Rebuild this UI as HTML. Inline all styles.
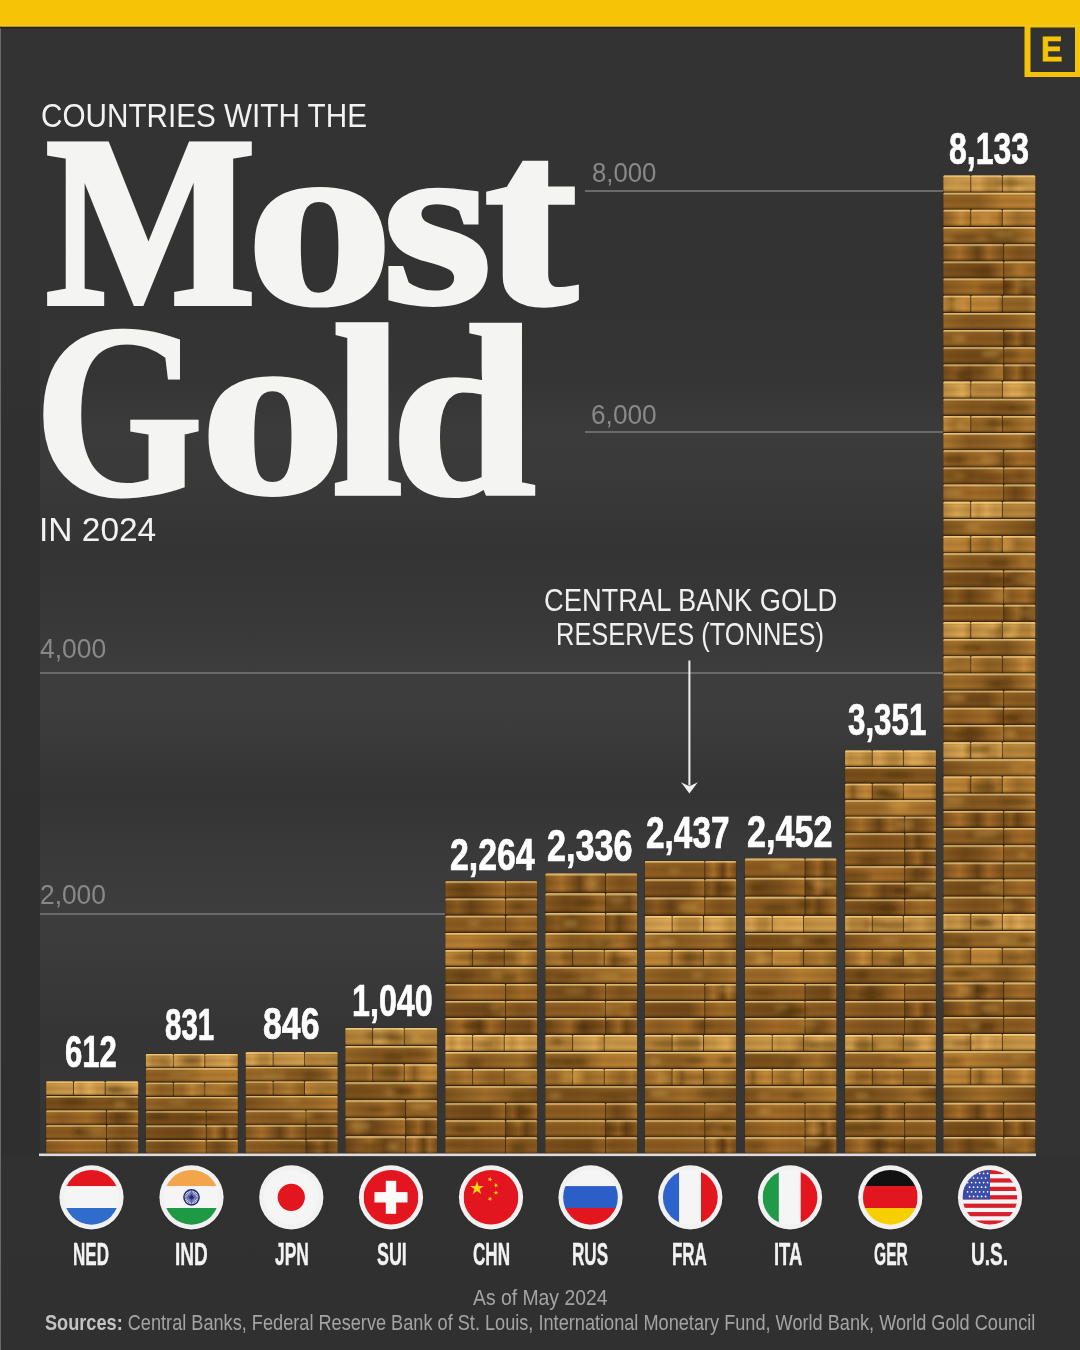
<!DOCTYPE html>
<html><head><meta charset="utf-8"><title>Countries with the Most Gold in 2024</title>
<style>
html,body{margin:0;padding:0;width:1080px;height:1350px;overflow:hidden;background:#323232;}
body{position:relative;font-family:"Liberation Sans",Arial,sans-serif;}
.t{position:absolute;white-space:nowrap;line-height:1;transform-origin:0 0;}
.sub{color:#f2f2f2;font-size:32px;letter-spacing:0px;}
.big{font-family:"Liberation Serif",serif;font-weight:bold;color:#f4f4f2;font-size:252px;-webkit-text-stroke:6px #f4f4f2;transform-origin:0 0;}
.ax{color:#888888;font-size:25px;}
.num{color:#fff;-webkit-text-stroke:0.7px #fff;}
.lab{color:#f2f2f2;-webkit-text-stroke:0.4px #f2f2f2;}
.ann{color:#f0f0f0;font-size:27px;text-align:center;}
.foot{color:#a4a4a4;font-size:20px;}
.logoE{color:#f5c406;-webkit-text-stroke:0.8px #f5c406;font-weight:bold;font-size:33px;}
</style></head><body>
<svg width="1080" height="1350" viewBox="0 0 1080 1350" style="position:absolute;left:0;top:0">
<defs>
<linearGradient id="h0_0" x1="0" y1="0" x2="1" y2="0"><stop offset="0.00" stop-color="#684316"/><stop offset="0.40" stop-color="#a06a27"/><stop offset="0.65" stop-color="#6c4517"/><stop offset="1.00" stop-color="#8f5e22"/></linearGradient>
<linearGradient id="h0_1" x1="0" y1="0" x2="1" y2="0"><stop offset="0.00" stop-color="#764d1a"/><stop offset="0.20" stop-color="#8d5d21"/><stop offset="0.43" stop-color="#694316"/><stop offset="0.74" stop-color="#8e5d21"/><stop offset="1.00" stop-color="#a9712a"/></linearGradient>
<linearGradient id="h0_2" x1="0" y1="0" x2="1" y2="0"><stop offset="0.00" stop-color="#82551e"/><stop offset="0.27" stop-color="#ab722b"/><stop offset="0.57" stop-color="#684316"/><stop offset="0.76" stop-color="#a36c28"/><stop offset="1.00" stop-color="#7a4f1b"/></linearGradient>
<linearGradient id="h0_3" x1="0" y1="0" x2="1" y2="0"><stop offset="0.00" stop-color="#8e5e22"/><stop offset="0.51" stop-color="#8d5d21"/><stop offset="1.00" stop-color="#966324"/></linearGradient>
<linearGradient id="h0_4" x1="0" y1="0" x2="1" y2="0"><stop offset="0.00" stop-color="#936123"/><stop offset="0.51" stop-color="#80531d"/><stop offset="1.00" stop-color="#8c5c21"/></linearGradient>
<linearGradient id="h0_5" x1="0" y1="0" x2="1" y2="0"><stop offset="0.00" stop-color="#926023"/><stop offset="0.51" stop-color="#895a20"/><stop offset="1.00" stop-color="#8b5c21"/></linearGradient>
<linearGradient id="h0_6" x1="0" y1="0" x2="1" y2="0"><stop offset="0.00" stop-color="#7f531d"/><stop offset="0.33" stop-color="#774d1a"/><stop offset="0.73" stop-color="#724a19"/><stop offset="1.00" stop-color="#9d6826"/></linearGradient>
<linearGradient id="h0_7" x1="0" y1="0" x2="1" y2="0"><stop offset="0.00" stop-color="#8b5b21"/><stop offset="0.51" stop-color="#a46d28"/><stop offset="1.00" stop-color="#9a6625"/></linearGradient>
<linearGradient id="h0_8" x1="0" y1="0" x2="1" y2="0"><stop offset="0.00" stop-color="#8a5b20"/><stop offset="0.35" stop-color="#714918"/><stop offset="0.60" stop-color="#7e521c"/><stop offset="1.00" stop-color="#a8702a"/></linearGradient>
<linearGradient id="h0_9" x1="0" y1="0" x2="1" y2="0"><stop offset="0.00" stop-color="#9c6826"/><stop offset="0.26" stop-color="#8e5e22"/><stop offset="0.69" stop-color="#a46d28"/><stop offset="1.00" stop-color="#7c501c"/></linearGradient>
<linearGradient id="h1_0" x1="0" y1="0" x2="1" y2="0"><stop offset="0.00" stop-color="#7a511b"/><stop offset="0.23" stop-color="#7c521c"/><stop offset="0.50" stop-color="#885b21"/><stop offset="0.80" stop-color="#a7732c"/><stop offset="1.00" stop-color="#7a501b"/></linearGradient>
<linearGradient id="h1_1" x1="0" y1="0" x2="1" y2="0"><stop offset="0.00" stop-color="#b07a30"/><stop offset="0.28" stop-color="#895c21"/><stop offset="0.52" stop-color="#916224"/><stop offset="0.83" stop-color="#a5712c"/><stop offset="1.00" stop-color="#774e1a"/></linearGradient>
<linearGradient id="h1_2" x1="0" y1="0" x2="1" y2="0"><stop offset="0.00" stop-color="#996827"/><stop offset="0.31" stop-color="#85591f"/><stop offset="0.68" stop-color="#8a5c21"/><stop offset="1.00" stop-color="#aa752d"/></linearGradient>
<linearGradient id="h1_3" x1="0" y1="0" x2="1" y2="0"><stop offset="0.00" stop-color="#7b511c"/><stop offset="0.32" stop-color="#956526"/><stop offset="0.73" stop-color="#9d6b28"/><stop offset="1.00" stop-color="#b57d31"/></linearGradient>
<linearGradient id="h1_4" x1="0" y1="0" x2="1" y2="0"><stop offset="0.00" stop-color="#936325"/><stop offset="0.39" stop-color="#8f6023"/><stop offset="0.63" stop-color="#b57d31"/><stop offset="1.00" stop-color="#ba8133"/></linearGradient>
<linearGradient id="h1_5" x1="0" y1="0" x2="1" y2="0"><stop offset="0.00" stop-color="#80551e"/><stop offset="0.43" stop-color="#a4712b"/><stop offset="1.00" stop-color="#764d1a"/></linearGradient>
<linearGradient id="h1_6" x1="0" y1="0" x2="1" y2="0"><stop offset="0.00" stop-color="#9b6a28"/><stop offset="0.20" stop-color="#a16e2a"/><stop offset="0.47" stop-color="#8c5e22"/><stop offset="0.69" stop-color="#7e541d"/><stop offset="1.00" stop-color="#b37c31"/></linearGradient>
<linearGradient id="h1_7" x1="0" y1="0" x2="1" y2="0"><stop offset="0.00" stop-color="#b47c31"/><stop offset="0.27" stop-color="#ba8133"/><stop offset="0.54" stop-color="#a6722c"/><stop offset="0.74" stop-color="#9d6b29"/><stop offset="1.00" stop-color="#926224"/></linearGradient>
<linearGradient id="h1_8" x1="0" y1="0" x2="1" y2="0"><stop offset="0.00" stop-color="#79501b"/><stop offset="0.27" stop-color="#7a501b"/><stop offset="0.69" stop-color="#84581f"/><stop offset="1.00" stop-color="#81561e"/></linearGradient>
<linearGradient id="h1_9" x1="0" y1="0" x2="1" y2="0"><stop offset="0.00" stop-color="#9e6c29"/><stop offset="0.35" stop-color="#9c6a28"/><stop offset="0.60" stop-color="#b98033"/><stop offset="1.00" stop-color="#a16e2a"/></linearGradient>
<linearGradient id="h2_0" x1="0" y1="0" x2="1" y2="0"><stop offset="0.00" stop-color="#b17b31"/><stop offset="0.56" stop-color="#916224"/><stop offset="1.00" stop-color="#986827"/></linearGradient>
<linearGradient id="h2_1" x1="0" y1="0" x2="1" y2="0"><stop offset="0.00" stop-color="#8f6123"/><stop offset="0.35" stop-color="#a8742e"/><stop offset="0.66" stop-color="#ca8e3c"/><stop offset="1.00" stop-color="#a8742d"/></linearGradient>
<linearGradient id="h2_2" x1="0" y1="0" x2="1" y2="0"><stop offset="0.00" stop-color="#9e6d29"/><stop offset="0.27" stop-color="#996927"/><stop offset="0.60" stop-color="#c08637"/><stop offset="1.00" stop-color="#926324"/></linearGradient>
<linearGradient id="h2_3" x1="0" y1="0" x2="1" y2="0"><stop offset="0.00" stop-color="#c88d3b"/><stop offset="0.45" stop-color="#9f6e2a"/><stop offset="1.00" stop-color="#b67f33"/></linearGradient>
<linearGradient id="h2_4" x1="0" y1="0" x2="1" y2="0"><stop offset="0.00" stop-color="#9b6a28"/><stop offset="0.54" stop-color="#b37d32"/><stop offset="1.00" stop-color="#8d5f22"/></linearGradient>
<linearGradient id="h2_5" x1="0" y1="0" x2="1" y2="0"><stop offset="0.00" stop-color="#9f6d2a"/><stop offset="0.34" stop-color="#966626"/><stop offset="0.73" stop-color="#ac772f"/><stop offset="1.00" stop-color="#a9752e"/></linearGradient>
<linearGradient id="h2_6" x1="0" y1="0" x2="1" y2="0"><stop offset="0.00" stop-color="#c18838"/><stop offset="0.21" stop-color="#be8537"/><stop offset="0.55" stop-color="#bf8637"/><stop offset="0.83" stop-color="#ba8235"/><stop offset="1.00" stop-color="#966726"/></linearGradient>
<linearGradient id="h2_7" x1="0" y1="0" x2="1" y2="0"><stop offset="0.00" stop-color="#bd8436"/><stop offset="0.25" stop-color="#a7742d"/><stop offset="0.54" stop-color="#946525"/><stop offset="0.83" stop-color="#b07b31"/><stop offset="1.00" stop-color="#9e6d2a"/></linearGradient>
<linearGradient id="h2_8" x1="0" y1="0" x2="1" y2="0"><stop offset="0.00" stop-color="#966626"/><stop offset="0.33" stop-color="#966726"/><stop offset="0.57" stop-color="#946525"/><stop offset="0.73" stop-color="#956525"/><stop offset="1.00" stop-color="#b27c32"/></linearGradient>
<linearGradient id="h2_9" x1="0" y1="0" x2="1" y2="0"><stop offset="0.00" stop-color="#be8537"/><stop offset="0.30" stop-color="#8c5f22"/><stop offset="0.50" stop-color="#b47d33"/><stop offset="0.77" stop-color="#c58b3a"/><stop offset="1.00" stop-color="#bc8436"/></linearGradient>
<linearGradient id="h3_0" x1="0" y1="0" x2="1" y2="0"><stop offset="0.00" stop-color="#ba893d"/><stop offset="0.50" stop-color="#daa652"/><stop offset="1.00" stop-color="#c29042"/></linearGradient>
<linearGradient id="h3_1" x1="0" y1="0" x2="1" y2="0"><stop offset="0.00" stop-color="#d7a350"/><stop offset="0.23" stop-color="#ba883c"/><stop offset="0.48" stop-color="#b7863b"/><stop offset="0.82" stop-color="#b9873c"/><stop offset="1.00" stop-color="#e0ab56"/></linearGradient>
<linearGradient id="h3_2" x1="0" y1="0" x2="1" y2="0"><stop offset="0.00" stop-color="#d3a04e"/><stop offset="0.19" stop-color="#c39143"/><stop offset="0.55" stop-color="#ce9a4a"/><stop offset="0.83" stop-color="#b8863b"/><stop offset="1.00" stop-color="#b18137"/></linearGradient>
<linearGradient id="h3_3" x1="0" y1="0" x2="1" y2="0"><stop offset="0.00" stop-color="#c89546"/><stop offset="0.27" stop-color="#dfaa55"/><stop offset="0.50" stop-color="#dca853"/><stop offset="0.82" stop-color="#bc8a3e"/><stop offset="1.00" stop-color="#be8c3f"/></linearGradient>
<linearGradient id="h3_4" x1="0" y1="0" x2="1" y2="0"><stop offset="0.00" stop-color="#c29042"/><stop offset="0.33" stop-color="#cd9a4a"/><stop offset="0.71" stop-color="#dda854"/><stop offset="1.00" stop-color="#b48339"/></linearGradient>
<linearGradient id="h3_5" x1="0" y1="0" x2="1" y2="0"><stop offset="0.00" stop-color="#e0ab56"/><stop offset="0.23" stop-color="#c79445"/><stop offset="0.49" stop-color="#e1ac57"/><stop offset="0.76" stop-color="#cb9848"/><stop offset="1.00" stop-color="#cd9a49"/></linearGradient>
<linearGradient id="h3_6" x1="0" y1="0" x2="1" y2="0"><stop offset="0.00" stop-color="#d19d4c"/><stop offset="0.25" stop-color="#daa552"/><stop offset="0.56" stop-color="#b9873c"/><stop offset="0.79" stop-color="#b8873b"/><stop offset="1.00" stop-color="#d19e4c"/></linearGradient>
<linearGradient id="h3_7" x1="0" y1="0" x2="1" y2="0"><stop offset="0.00" stop-color="#c29042"/><stop offset="0.51" stop-color="#cc9949"/><stop offset="1.00" stop-color="#ce9b4a"/></linearGradient>
<linearGradient id="h3_8" x1="0" y1="0" x2="1" y2="0"><stop offset="0.00" stop-color="#b48338"/><stop offset="0.56" stop-color="#bb893d"/><stop offset="1.00" stop-color="#b38238"/></linearGradient>
<linearGradient id="h3_9" x1="0" y1="0" x2="1" y2="0"><stop offset="0.00" stop-color="#ce9b4a"/><stop offset="0.50" stop-color="#d9a451"/><stop offset="1.00" stop-color="#e1ac57"/></linearGradient>
<linearGradient id="vsh" x1="0" y1="0" x2="0" y2="1"><stop offset="0" stop-color="#ffe4a0" stop-opacity="0.8"/><stop offset="0.1" stop-color="#ffd888" stop-opacity="0.45"/><stop offset="0.2" stop-color="#2a1400" stop-opacity="0.0"/><stop offset="0.5" stop-color="#2a1400" stop-opacity="0.12"/><stop offset="0.8" stop-color="#2a1400" stop-opacity="0.0"/><stop offset="0.93" stop-color="#2a1400" stop-opacity="0.18"/><stop offset="1" stop-color="#1a0a00" stop-opacity="0.5"/></linearGradient>
<linearGradient id="g0" x1="0" y1="0" x2="0" y2="1"><stop offset="0" stop-color="#c99a40"/><stop offset="0.5" stop-color="#a87a2c"/><stop offset="1" stop-color="#7a5418"/></linearGradient>
<linearGradient id="g1" x1="0" y1="0" x2="0" y2="1"><stop offset="0" stop-color="#d2a548"/><stop offset="0.5" stop-color="#b08232"/><stop offset="1" stop-color="#80581a"/></linearGradient>
<linearGradient id="g2" x1="0" y1="0" x2="0" y2="1"><stop offset="0" stop-color="#bf9038"/><stop offset="0.5" stop-color="#9e7228"/><stop offset="1" stop-color="#724e16"/></linearGradient>
<linearGradient id="g3" x1="0" y1="0" x2="1" y2="0"><stop offset="0" stop-color="#b88a36"/><stop offset="0.5" stop-color="#a27628"/><stop offset="1" stop-color="#c49640"/></linearGradient>
<filter id="blur3" x="-20%" y="-50%" width="140%" height="200%"><feGaussianBlur stdDeviation="2.5"/></filter>
<linearGradient id="chartbg" x1="0" y1="0" x2="0" y2="1"><stop offset="0.000" stop-color="#333333"/><stop offset="0.093" stop-color="#353535"/><stop offset="0.153" stop-color="#3b3b3b"/><stop offset="0.198" stop-color="#3a3a3a"/><stop offset="0.293" stop-color="#343434"/><stop offset="0.372" stop-color="#383838"/><stop offset="0.434" stop-color="#3d3d3d"/><stop offset="0.477" stop-color="#3d3d3d"/><stop offset="0.573" stop-color="#343434"/><stop offset="0.651" stop-color="#3a3a3a"/><stop offset="0.714" stop-color="#3d3d3d"/><stop offset="0.756" stop-color="#3b3b3b"/><stop offset="0.853" stop-color="#353535"/><stop offset="0.930" stop-color="#363636"/><stop offset="0.988" stop-color="#343434"/><stop offset="1.000" stop-color="#333333"/></linearGradient>
<linearGradient id="lstrip" x1="0" y1="0" x2="0" y2="1"><stop offset="0" stop-color="#333333"/><stop offset="0.15" stop-color="#303030"/><stop offset="1" stop-color="#2f2f2f"/></linearGradient>
<radialGradient id="spot" cx="0.3" cy="0.45" r="0.45"><stop offset="0" stop-color="#ffffff" stop-opacity="0.0"/><stop offset="1" stop-color="#ffffff" stop-opacity="0"/></radialGradient>
<linearGradient id="footbg" x1="0" y1="0" x2="0" y2="1"><stop offset="0" stop-color="#313131"/><stop offset="1" stop-color="#303030"/></linearGradient>
</defs>
<rect x="0" y="0" width="1080" height="1350" fill="#333333"/>
<rect x="0" y="300" width="40" height="860" fill="url(#lstrip)"/>
<rect x="40" y="300" width="998" height="860" fill="url(#chartbg)"/>

<rect x="0" y="1156" width="1080" height="194" fill="url(#footbg)"/>
<rect x="0" y="27" width="1" height="1323" fill="#6a6a6a"/>
<rect x="585" y="190.0" width="359" height="2" fill="#6a6a6a"/>
<rect x="585" y="431.0" width="359" height="2" fill="#6a6a6a"/>
<rect x="40" y="672.0" width="904" height="2" fill="#6a6a6a"/>
<rect x="40" y="913.0" width="405" height="2" fill="#6a6a6a"/>
<rect x="45.8" y="1081.0" width="92.8" height="74.0" fill="#3a2810"/>
<rect x="46.2" y="1081.5" width="27.0" height="13.6" rx="1.2" fill="url(#h3_7)"/><rect x="46.2" y="1081.5" width="27.0" height="13.6" rx="1.2" fill="url(#vsh)"/>
<rect x="74.0" y="1081.5" width="30.8" height="13.6" rx="1.2" fill="url(#h3_5)"/><rect x="74.0" y="1081.5" width="30.8" height="13.6" rx="1.2" fill="url(#vsh)"/>
<rect x="105.6" y="1081.5" width="32.6" height="13.6" rx="1.2" fill="url(#h3_9)"/><rect x="105.6" y="1081.5" width="32.6" height="13.6" rx="1.2" fill="url(#vsh)"/>
<rect x="46.2" y="1096.1" width="92.0" height="13.6" rx="1.2" fill="url(#h1_8)"/><rect x="46.2" y="1096.1" width="92.0" height="13.6" rx="1.2" fill="url(#vsh)"/>
<rect x="46.2" y="1110.6" width="60.0" height="13.6" rx="1.2" fill="url(#h0_9)"/><rect x="46.2" y="1110.6" width="60.0" height="13.6" rx="1.2" fill="url(#vsh)"/>
<rect x="107.0" y="1110.6" width="31.2" height="13.6" rx="1.2" fill="url(#h0_8)"/><rect x="107.0" y="1110.6" width="31.2" height="13.6" rx="1.2" fill="url(#vsh)"/>
<rect x="46.2" y="1125.2" width="60.0" height="13.6" rx="1.2" fill="url(#h0_3)"/><rect x="46.2" y="1125.2" width="60.0" height="13.6" rx="1.2" fill="url(#vsh)"/>
<rect x="107.0" y="1125.2" width="31.2" height="13.6" rx="1.2" fill="url(#h0_4)"/><rect x="107.0" y="1125.2" width="31.2" height="13.6" rx="1.2" fill="url(#vsh)"/>
<rect x="46.2" y="1139.7" width="60.0" height="13.6" rx="1.2" fill="url(#h0_7)"/><rect x="46.2" y="1139.7" width="60.0" height="13.6" rx="1.2" fill="url(#vsh)"/>
<rect x="107.0" y="1139.7" width="31.2" height="13.6" rx="1.2" fill="url(#h0_8)"/><rect x="107.0" y="1139.7" width="31.2" height="13.6" rx="1.2" fill="url(#vsh)"/>
<clipPath id="cc0"><rect x="45.8" y="1081.0" width="92.8" height="74.0"/></clipPath>
<g clip-path="url(#cc0)"><g filter="url(#blur3)">
<ellipse cx="115.0" cy="1089.0" rx="8.5" ry="3.2" fill="#3a2306" opacity="0.35"/>
<ellipse cx="120.1" cy="1090.9" rx="15.2" ry="3.2" fill="#3a2306" opacity="0.43"/>
<ellipse cx="88.3" cy="1087.6" rx="7.7" ry="2.9" fill="#f0c060" opacity="0.25"/>
<ellipse cx="72.9" cy="1101.7" rx="12.7" ry="3.2" fill="#3a2306" opacity="0.41"/>
<ellipse cx="121.7" cy="1102.1" rx="13.2" ry="3.2" fill="#3a2306" opacity="0.38"/>
<ellipse cx="120.6" cy="1104.2" rx="6.5" ry="2.9" fill="#f0c060" opacity="0.34"/>
<ellipse cx="120.8" cy="1116.7" rx="12.7" ry="3.2" fill="#3a2306" opacity="0.29"/>
<ellipse cx="85.1" cy="1132.3" rx="9.6" ry="3.2" fill="#3a2306" opacity="0.27"/>
<ellipse cx="82.2" cy="1132.0" rx="10.6" ry="3.2" fill="#3a2306" opacity="0.39"/>
<ellipse cx="93.5" cy="1130.9" rx="11.7" ry="2.9" fill="#f0c060" opacity="0.22"/>
</g></g>
<rect x="145.5" y="1053.5" width="92.7" height="101.5" fill="#3a2810"/>
<rect x="145.9" y="1054.0" width="27.0" height="13.3" rx="1.2" fill="url(#h3_1)"/><rect x="145.9" y="1054.0" width="27.0" height="13.3" rx="1.2" fill="url(#vsh)"/>
<rect x="173.7" y="1054.0" width="30.7" height="13.3" rx="1.2" fill="url(#h3_1)"/><rect x="173.7" y="1054.0" width="30.7" height="13.3" rx="1.2" fill="url(#vsh)"/>
<rect x="205.2" y="1054.0" width="32.6" height="13.3" rx="1.2" fill="url(#h3_4)"/><rect x="205.2" y="1054.0" width="32.6" height="13.3" rx="1.2" fill="url(#vsh)"/>
<rect x="145.9" y="1068.3" width="91.9" height="13.3" rx="1.2" fill="url(#h1_4)"/><rect x="145.9" y="1068.3" width="91.9" height="13.3" rx="1.2" fill="url(#vsh)"/>
<rect x="145.9" y="1082.7" width="27.0" height="13.3" rx="1.2" fill="url(#h2_0)"/><rect x="145.9" y="1082.7" width="27.0" height="13.3" rx="1.2" fill="url(#vsh)"/>
<rect x="173.7" y="1082.7" width="30.7" height="13.3" rx="1.2" fill="url(#h2_2)"/><rect x="173.7" y="1082.7" width="30.7" height="13.3" rx="1.2" fill="url(#vsh)"/>
<rect x="205.2" y="1082.7" width="32.6" height="13.3" rx="1.2" fill="url(#h2_4)"/><rect x="205.2" y="1082.7" width="32.6" height="13.3" rx="1.2" fill="url(#vsh)"/>
<rect x="145.9" y="1097.0" width="91.9" height="13.3" rx="1.2" fill="url(#h1_2)"/><rect x="145.9" y="1097.0" width="91.9" height="13.3" rx="1.2" fill="url(#vsh)"/>
<rect x="145.9" y="1111.3" width="59.9" height="13.3" rx="1.2" fill="url(#h0_6)"/><rect x="145.9" y="1111.3" width="59.9" height="13.3" rx="1.2" fill="url(#vsh)"/>
<rect x="206.6" y="1111.3" width="31.2" height="13.3" rx="1.2" fill="url(#h0_4)"/><rect x="206.6" y="1111.3" width="31.2" height="13.3" rx="1.2" fill="url(#vsh)"/>
<rect x="145.9" y="1125.6" width="59.9" height="13.3" rx="1.2" fill="url(#h0_6)"/><rect x="145.9" y="1125.6" width="59.9" height="13.3" rx="1.2" fill="url(#vsh)"/>
<rect x="206.6" y="1125.6" width="31.2" height="13.3" rx="1.2" fill="url(#h0_2)"/><rect x="206.6" y="1125.6" width="31.2" height="13.3" rx="1.2" fill="url(#vsh)"/>
<rect x="145.9" y="1140.0" width="59.9" height="13.3" rx="1.2" fill="url(#h0_8)"/><rect x="145.9" y="1140.0" width="59.9" height="13.3" rx="1.2" fill="url(#vsh)"/>
<rect x="206.6" y="1140.0" width="31.2" height="13.3" rx="1.2" fill="url(#h0_8)"/><rect x="206.6" y="1140.0" width="31.2" height="13.3" rx="1.2" fill="url(#vsh)"/>
<clipPath id="cc1"><rect x="145.5" y="1053.5" width="92.7" height="101.5"/></clipPath>
<g clip-path="url(#cc1)"><g filter="url(#blur3)">
<ellipse cx="191.5" cy="1060.6" rx="8.8" ry="3.2" fill="#3a2306" opacity="0.41"/>
<ellipse cx="168.4" cy="1063.1" rx="8.7" ry="3.2" fill="#3a2306" opacity="0.25"/>
<ellipse cx="174.1" cy="1060.7" rx="6.6" ry="2.9" fill="#f0c060" opacity="0.24"/>
<ellipse cx="179.9" cy="1074.8" rx="11.5" ry="2.9" fill="#f0c060" opacity="0.24"/>
<ellipse cx="207.4" cy="1090.5" rx="11.8" ry="2.9" fill="#f0c060" opacity="0.24"/>
<ellipse cx="177.9" cy="1102.6" rx="10.3" ry="2.9" fill="#f0c060" opacity="0.24"/>
<ellipse cx="204.6" cy="1117.7" rx="14.0" ry="3.2" fill="#3a2306" opacity="0.45"/>
<ellipse cx="157.5" cy="1116.6" rx="11.1" ry="3.2" fill="#3a2306" opacity="0.45"/>
</g></g>
<rect x="245.3" y="1051.8" width="92.7" height="103.2" fill="#3a2810"/>
<rect x="245.7" y="1052.3" width="27.0" height="13.6" rx="1.2" fill="url(#h3_6)"/><rect x="245.7" y="1052.3" width="27.0" height="13.6" rx="1.2" fill="url(#vsh)"/>
<rect x="273.5" y="1052.3" width="30.7" height="13.6" rx="1.2" fill="url(#h3_7)"/><rect x="273.5" y="1052.3" width="30.7" height="13.6" rx="1.2" fill="url(#vsh)"/>
<rect x="305.0" y="1052.3" width="32.6" height="13.6" rx="1.2" fill="url(#h3_8)"/><rect x="305.0" y="1052.3" width="32.6" height="13.6" rx="1.2" fill="url(#vsh)"/>
<rect x="245.7" y="1066.9" width="91.9" height="13.6" rx="1.2" fill="url(#h1_6)"/><rect x="245.7" y="1066.9" width="91.9" height="13.6" rx="1.2" fill="url(#vsh)"/>
<rect x="245.7" y="1081.4" width="27.0" height="13.6" rx="1.2" fill="url(#h2_8)"/><rect x="245.7" y="1081.4" width="27.0" height="13.6" rx="1.2" fill="url(#vsh)"/>
<rect x="273.5" y="1081.4" width="30.7" height="13.6" rx="1.2" fill="url(#h2_4)"/><rect x="273.5" y="1081.4" width="30.7" height="13.6" rx="1.2" fill="url(#vsh)"/>
<rect x="305.0" y="1081.4" width="32.6" height="13.6" rx="1.2" fill="url(#h2_3)"/><rect x="305.0" y="1081.4" width="32.6" height="13.6" rx="1.2" fill="url(#vsh)"/>
<rect x="245.7" y="1096.0" width="91.9" height="13.6" rx="1.2" fill="url(#h1_3)"/><rect x="245.7" y="1096.0" width="91.9" height="13.6" rx="1.2" fill="url(#vsh)"/>
<rect x="245.7" y="1110.6" width="59.9" height="13.6" rx="1.2" fill="url(#h0_5)"/><rect x="245.7" y="1110.6" width="59.9" height="13.6" rx="1.2" fill="url(#vsh)"/>
<rect x="306.4" y="1110.6" width="31.2" height="13.6" rx="1.2" fill="url(#h0_3)"/><rect x="306.4" y="1110.6" width="31.2" height="13.6" rx="1.2" fill="url(#vsh)"/>
<rect x="245.7" y="1125.2" width="59.9" height="13.6" rx="1.2" fill="url(#h0_2)"/><rect x="245.7" y="1125.2" width="59.9" height="13.6" rx="1.2" fill="url(#vsh)"/>
<rect x="306.4" y="1125.2" width="31.2" height="13.6" rx="1.2" fill="url(#h0_6)"/><rect x="306.4" y="1125.2" width="31.2" height="13.6" rx="1.2" fill="url(#vsh)"/>
<rect x="245.7" y="1139.7" width="59.9" height="13.6" rx="1.2" fill="url(#h0_5)"/><rect x="245.7" y="1139.7" width="59.9" height="13.6" rx="1.2" fill="url(#vsh)"/>
<rect x="306.4" y="1139.7" width="31.2" height="13.6" rx="1.2" fill="url(#h0_0)"/><rect x="306.4" y="1139.7" width="31.2" height="13.6" rx="1.2" fill="url(#vsh)"/>
<clipPath id="cc2"><rect x="245.3" y="1051.8" width="92.7" height="103.2"/></clipPath>
<g clip-path="url(#cc2)"><g filter="url(#blur3)">
<ellipse cx="301.0" cy="1060.1" rx="8.0" ry="2.9" fill="#f0c060" opacity="0.21"/>
<ellipse cx="317.0" cy="1076.0" rx="12.7" ry="3.2" fill="#3a2306" opacity="0.31"/>
<ellipse cx="272.5" cy="1073.5" rx="10.6" ry="3.2" fill="#3a2306" opacity="0.28"/>
<ellipse cx="274.1" cy="1075.0" rx="11.8" ry="2.9" fill="#f0c060" opacity="0.28"/>
<ellipse cx="320.0" cy="1086.8" rx="6.3" ry="2.9" fill="#f0c060" opacity="0.25"/>
<ellipse cx="291.9" cy="1101.3" rx="8.5" ry="2.9" fill="#f0c060" opacity="0.20"/>
<ellipse cx="315.2" cy="1116.5" rx="11.9" ry="3.2" fill="#3a2306" opacity="0.33"/>
<ellipse cx="301.3" cy="1115.5" rx="11.7" ry="2.9" fill="#f0c060" opacity="0.33"/>
<ellipse cx="312.7" cy="1147.7" rx="13.6" ry="3.2" fill="#3a2306" opacity="0.39"/>
<ellipse cx="291.2" cy="1146.3" rx="12.2" ry="3.2" fill="#3a2306" opacity="0.28"/>
</g></g>
<rect x="345" y="1027.6" width="92.5" height="127.4" fill="#3a2810"/>
<rect x="345.4" y="1028.1" width="26.9" height="17.0" rx="1.2" fill="url(#h3_8)"/><rect x="345.4" y="1028.1" width="26.9" height="17.0" rx="1.2" fill="url(#vsh)"/>
<rect x="373.1" y="1028.1" width="30.7" height="17.0" rx="1.2" fill="url(#h3_6)"/><rect x="373.1" y="1028.1" width="30.7" height="17.0" rx="1.2" fill="url(#vsh)"/>
<rect x="404.6" y="1028.1" width="32.5" height="17.0" rx="1.2" fill="url(#h3_8)"/><rect x="404.6" y="1028.1" width="32.5" height="17.0" rx="1.2" fill="url(#vsh)"/>
<rect x="345.4" y="1046.1" width="91.7" height="17.0" rx="1.2" fill="url(#h1_2)"/><rect x="345.4" y="1046.1" width="91.7" height="17.0" rx="1.2" fill="url(#vsh)"/>
<rect x="345.4" y="1064.2" width="26.9" height="17.0" rx="1.2" fill="url(#h2_8)"/><rect x="345.4" y="1064.2" width="26.9" height="17.0" rx="1.2" fill="url(#vsh)"/>
<rect x="373.1" y="1064.2" width="30.7" height="17.0" rx="1.2" fill="url(#h2_8)"/><rect x="373.1" y="1064.2" width="30.7" height="17.0" rx="1.2" fill="url(#vsh)"/>
<rect x="404.6" y="1064.2" width="32.5" height="17.0" rx="1.2" fill="url(#h2_9)"/><rect x="404.6" y="1064.2" width="32.5" height="17.0" rx="1.2" fill="url(#vsh)"/>
<rect x="345.4" y="1082.2" width="91.7" height="17.0" rx="1.2" fill="url(#h1_0)"/><rect x="345.4" y="1082.2" width="91.7" height="17.0" rx="1.2" fill="url(#vsh)"/>
<rect x="345.4" y="1100.2" width="59.8" height="17.0" rx="1.2" fill="url(#h0_9)"/><rect x="345.4" y="1100.2" width="59.8" height="17.0" rx="1.2" fill="url(#vsh)"/>
<rect x="406.0" y="1100.2" width="31.1" height="17.0" rx="1.2" fill="url(#h0_3)"/><rect x="406.0" y="1100.2" width="31.1" height="17.0" rx="1.2" fill="url(#vsh)"/>
<rect x="345.4" y="1118.2" width="59.8" height="17.0" rx="1.2" fill="url(#h0_1)"/><rect x="345.4" y="1118.2" width="59.8" height="17.0" rx="1.2" fill="url(#vsh)"/>
<rect x="406.0" y="1118.2" width="31.1" height="17.0" rx="1.2" fill="url(#h0_0)"/><rect x="406.0" y="1118.2" width="31.1" height="17.0" rx="1.2" fill="url(#vsh)"/>
<rect x="345.4" y="1136.3" width="59.8" height="17.0" rx="1.2" fill="url(#h0_0)"/><rect x="345.4" y="1136.3" width="59.8" height="17.0" rx="1.2" fill="url(#vsh)"/>
<rect x="406.0" y="1136.3" width="31.1" height="17.0" rx="1.2" fill="url(#h0_2)"/><rect x="406.0" y="1136.3" width="31.1" height="17.0" rx="1.2" fill="url(#vsh)"/>
<clipPath id="cc3"><rect x="345" y="1027.6" width="92.5" height="127.4"/></clipPath>
<g clip-path="url(#cc3)"><g filter="url(#blur3)">
<ellipse cx="380.9" cy="1035.4" rx="14.4" ry="4.0" fill="#3a2306" opacity="0.36"/>
<ellipse cx="400.7" cy="1038.2" rx="12.8" ry="4.0" fill="#3a2306" opacity="0.35"/>
<ellipse cx="413.3" cy="1037.3" rx="8.5" ry="3.6" fill="#f0c060" opacity="0.28"/>
<ellipse cx="393.2" cy="1056.9" rx="10.7" ry="4.0" fill="#3a2306" opacity="0.41"/>
<ellipse cx="416.9" cy="1054.1" rx="13.6" ry="4.0" fill="#3a2306" opacity="0.30"/>
<ellipse cx="390.8" cy="1072.9" rx="10.8" ry="4.0" fill="#3a2306" opacity="0.39"/>
<ellipse cx="401.1" cy="1090.0" rx="12.0" ry="4.0" fill="#3a2306" opacity="0.32"/>
<ellipse cx="402.5" cy="1092.6" rx="12.2" ry="4.0" fill="#3a2306" opacity="0.28"/>
<ellipse cx="390.2" cy="1092.4" rx="5.7" ry="3.6" fill="#f0c060" opacity="0.23"/>
<ellipse cx="375.8" cy="1109.7" rx="10.6" ry="4.0" fill="#3a2306" opacity="0.34"/>
<ellipse cx="420.4" cy="1106.9" rx="11.8" ry="3.6" fill="#f0c060" opacity="0.34"/>
<ellipse cx="359.9" cy="1126.3" rx="12.0" ry="3.6" fill="#f0c060" opacity="0.35"/>
<ellipse cx="369.8" cy="1148.1" rx="8.1" ry="4.0" fill="#3a2306" opacity="0.37"/>
<ellipse cx="393.0" cy="1146.4" rx="5.9" ry="3.6" fill="#f0c060" opacity="0.32"/>
</g></g>
<rect x="445" y="880.7" width="92.5" height="274.3" fill="#3a2810"/>
<rect x="445.4" y="881.2" width="59.8" height="16.2" rx="1.2" fill="url(#h0_8)"/><rect x="445.4" y="881.2" width="59.8" height="16.2" rx="1.2" fill="url(#vsh)"/>
<rect x="506.0" y="881.2" width="31.1" height="16.2" rx="1.2" fill="url(#h0_4)"/><rect x="506.0" y="881.2" width="31.1" height="16.2" rx="1.2" fill="url(#vsh)"/>
<rect x="445.4" y="898.4" width="59.8" height="16.2" rx="1.2" fill="url(#h0_1)"/><rect x="445.4" y="898.4" width="59.8" height="16.2" rx="1.2" fill="url(#vsh)"/>
<rect x="506.0" y="898.4" width="31.1" height="16.2" rx="1.2" fill="url(#h0_5)"/><rect x="506.0" y="898.4" width="31.1" height="16.2" rx="1.2" fill="url(#vsh)"/>
<rect x="445.4" y="915.7" width="59.8" height="16.2" rx="1.2" fill="url(#h0_3)"/><rect x="445.4" y="915.7" width="59.8" height="16.2" rx="1.2" fill="url(#vsh)"/>
<rect x="506.0" y="915.7" width="31.1" height="16.2" rx="1.2" fill="url(#h0_7)"/><rect x="506.0" y="915.7" width="31.1" height="16.2" rx="1.2" fill="url(#vsh)"/>
<rect x="445.4" y="932.9" width="91.7" height="16.0" rx="1.2" fill="url(#h1_7)"/><rect x="445.4" y="932.9" width="91.7" height="16.0" rx="1.2" fill="url(#vsh)"/>
<rect x="445.4" y="949.9" width="26.9" height="16.0" rx="1.2" fill="url(#h2_6)"/><rect x="445.4" y="949.9" width="26.9" height="16.0" rx="1.2" fill="url(#vsh)"/>
<rect x="473.1" y="949.9" width="30.7" height="16.0" rx="1.2" fill="url(#h2_0)"/><rect x="473.1" y="949.9" width="30.7" height="16.0" rx="1.2" fill="url(#vsh)"/>
<rect x="504.6" y="949.9" width="32.5" height="16.0" rx="1.2" fill="url(#h2_2)"/><rect x="504.6" y="949.9" width="32.5" height="16.0" rx="1.2" fill="url(#vsh)"/>
<rect x="445.4" y="967.0" width="91.7" height="16.0" rx="1.2" fill="url(#h1_0)"/><rect x="445.4" y="967.0" width="91.7" height="16.0" rx="1.2" fill="url(#vsh)"/>
<rect x="445.4" y="984.0" width="59.8" height="16.0" rx="1.2" fill="url(#h0_7)"/><rect x="445.4" y="984.0" width="59.8" height="16.0" rx="1.2" fill="url(#vsh)"/>
<rect x="506.0" y="984.0" width="31.1" height="16.0" rx="1.2" fill="url(#h0_7)"/><rect x="506.0" y="984.0" width="31.1" height="16.0" rx="1.2" fill="url(#vsh)"/>
<rect x="445.4" y="1001.0" width="59.8" height="16.0" rx="1.2" fill="url(#h0_6)"/><rect x="445.4" y="1001.0" width="59.8" height="16.0" rx="1.2" fill="url(#vsh)"/>
<rect x="506.0" y="1001.0" width="31.1" height="16.0" rx="1.2" fill="url(#h0_4)"/><rect x="506.0" y="1001.0" width="31.1" height="16.0" rx="1.2" fill="url(#vsh)"/>
<rect x="445.4" y="1018.1" width="59.8" height="16.0" rx="1.2" fill="url(#h0_2)"/><rect x="445.4" y="1018.1" width="59.8" height="16.0" rx="1.2" fill="url(#vsh)"/>
<rect x="506.0" y="1018.1" width="31.1" height="16.0" rx="1.2" fill="url(#h0_6)"/><rect x="506.0" y="1018.1" width="31.1" height="16.0" rx="1.2" fill="url(#vsh)"/>
<rect x="445.4" y="1035.1" width="26.9" height="16.0" rx="1.2" fill="url(#h3_5)"/><rect x="445.4" y="1035.1" width="26.9" height="16.0" rx="1.2" fill="url(#vsh)"/>
<rect x="473.1" y="1035.1" width="30.7" height="16.0" rx="1.2" fill="url(#h3_6)"/><rect x="473.1" y="1035.1" width="30.7" height="16.0" rx="1.2" fill="url(#vsh)"/>
<rect x="504.6" y="1035.1" width="32.5" height="16.0" rx="1.2" fill="url(#h3_5)"/><rect x="504.6" y="1035.1" width="32.5" height="16.0" rx="1.2" fill="url(#vsh)"/>
<rect x="445.4" y="1052.1" width="91.7" height="16.0" rx="1.2" fill="url(#h1_1)"/><rect x="445.4" y="1052.1" width="91.7" height="16.0" rx="1.2" fill="url(#vsh)"/>
<rect x="445.4" y="1069.1" width="26.9" height="16.0" rx="1.2" fill="url(#h2_5)"/><rect x="445.4" y="1069.1" width="26.9" height="16.0" rx="1.2" fill="url(#vsh)"/>
<rect x="473.1" y="1069.1" width="30.7" height="16.0" rx="1.2" fill="url(#h2_0)"/><rect x="473.1" y="1069.1" width="30.7" height="16.0" rx="1.2" fill="url(#vsh)"/>
<rect x="504.6" y="1069.1" width="32.5" height="16.0" rx="1.2" fill="url(#h2_5)"/><rect x="504.6" y="1069.1" width="32.5" height="16.0" rx="1.2" fill="url(#vsh)"/>
<rect x="445.4" y="1086.2" width="91.7" height="16.0" rx="1.2" fill="url(#h1_5)"/><rect x="445.4" y="1086.2" width="91.7" height="16.0" rx="1.2" fill="url(#vsh)"/>
<rect x="445.4" y="1103.2" width="59.8" height="16.0" rx="1.2" fill="url(#h0_6)"/><rect x="445.4" y="1103.2" width="59.8" height="16.0" rx="1.2" fill="url(#vsh)"/>
<rect x="506.0" y="1103.2" width="31.1" height="16.0" rx="1.2" fill="url(#h0_1)"/><rect x="506.0" y="1103.2" width="31.1" height="16.0" rx="1.2" fill="url(#vsh)"/>
<rect x="445.4" y="1120.2" width="59.8" height="16.0" rx="1.2" fill="url(#h0_3)"/><rect x="445.4" y="1120.2" width="59.8" height="16.0" rx="1.2" fill="url(#vsh)"/>
<rect x="506.0" y="1120.2" width="31.1" height="16.0" rx="1.2" fill="url(#h0_0)"/><rect x="506.0" y="1120.2" width="31.1" height="16.0" rx="1.2" fill="url(#vsh)"/>
<rect x="445.4" y="1137.3" width="59.8" height="16.0" rx="1.2" fill="url(#h0_4)"/><rect x="445.4" y="1137.3" width="59.8" height="16.0" rx="1.2" fill="url(#vsh)"/>
<rect x="506.0" y="1137.3" width="31.1" height="16.0" rx="1.2" fill="url(#h0_4)"/><rect x="506.0" y="1137.3" width="31.1" height="16.0" rx="1.2" fill="url(#vsh)"/>
<clipPath id="cc4"><rect x="445" y="880.7" width="92.5" height="274.3"/></clipPath>
<g clip-path="url(#cc4)"><g filter="url(#blur3)">
<ellipse cx="459.1" cy="889.6" rx="14.7" ry="3.8" fill="#3a2306" opacity="0.27"/>
<ellipse cx="517.5" cy="906.3" rx="6.5" ry="3.8" fill="#3a2306" opacity="0.38"/>
<ellipse cx="473.9" cy="923.4" rx="6.3" ry="3.4" fill="#f0c060" opacity="0.26"/>
<ellipse cx="519.7" cy="943.4" rx="12.3" ry="3.7" fill="#3a2306" opacity="0.43"/>
<ellipse cx="469.3" cy="956.7" rx="15.3" ry="3.7" fill="#3a2306" opacity="0.33"/>
<ellipse cx="499.8" cy="957.0" rx="14.7" ry="3.7" fill="#3a2306" opacity="0.35"/>
<ellipse cx="463.7" cy="975.7" rx="9.4" ry="3.7" fill="#3a2306" opacity="0.31"/>
<ellipse cx="508.9" cy="978.3" rx="8.6" ry="3.7" fill="#3a2306" opacity="0.38"/>
<ellipse cx="495.5" cy="974.1" rx="6.2" ry="3.4" fill="#f0c060" opacity="0.22"/>
<ellipse cx="495.0" cy="1009.7" rx="9.3" ry="3.7" fill="#3a2306" opacity="0.40"/>
<ellipse cx="494.8" cy="1007.5" rx="6.2" ry="3.4" fill="#f0c060" opacity="0.28"/>
<ellipse cx="471.9" cy="1025.7" rx="11.7" ry="3.7" fill="#3a2306" opacity="0.43"/>
<ellipse cx="482.6" cy="1045.2" rx="8.1" ry="3.7" fill="#3a2306" opacity="0.30"/>
<ellipse cx="474.8" cy="1063.4" rx="7.3" ry="3.7" fill="#3a2306" opacity="0.35"/>
<ellipse cx="520.6" cy="1076.2" rx="9.5" ry="3.4" fill="#f0c060" opacity="0.26"/>
<ellipse cx="517.1" cy="1097.0" rx="6.2" ry="3.7" fill="#3a2306" opacity="0.26"/>
<ellipse cx="525.9" cy="1112.0" rx="6.7" ry="3.7" fill="#3a2306" opacity="0.44"/>
<ellipse cx="517.6" cy="1131.5" rx="8.5" ry="3.7" fill="#3a2306" opacity="0.27"/>
<ellipse cx="465.7" cy="1129.2" rx="12.8" ry="3.7" fill="#3a2306" opacity="0.44"/>
<ellipse cx="516.9" cy="1148.2" rx="6.9" ry="3.7" fill="#3a2306" opacity="0.41"/>
<ellipse cx="454.4" cy="1144.2" rx="11.7" ry="3.7" fill="#3a2306" opacity="0.26"/>
</g></g>
<rect x="545" y="873.0" width="92.5" height="282.0" fill="#3a2810"/>
<rect x="545.4" y="873.5" width="59.8" height="18.8" rx="1.2" fill="url(#h0_2)"/><rect x="545.4" y="873.5" width="59.8" height="18.8" rx="1.2" fill="url(#vsh)"/>
<rect x="606.0" y="873.5" width="31.1" height="18.8" rx="1.2" fill="url(#h0_4)"/><rect x="606.0" y="873.5" width="31.1" height="18.8" rx="1.2" fill="url(#vsh)"/>
<rect x="545.4" y="893.3" width="59.8" height="18.8" rx="1.2" fill="url(#h0_8)"/><rect x="545.4" y="893.3" width="59.8" height="18.8" rx="1.2" fill="url(#vsh)"/>
<rect x="606.0" y="893.3" width="31.1" height="18.8" rx="1.2" fill="url(#h0_6)"/><rect x="606.0" y="893.3" width="31.1" height="18.8" rx="1.2" fill="url(#vsh)"/>
<rect x="545.4" y="913.1" width="59.8" height="18.8" rx="1.2" fill="url(#h0_1)"/><rect x="545.4" y="913.1" width="59.8" height="18.8" rx="1.2" fill="url(#vsh)"/>
<rect x="606.0" y="913.1" width="31.1" height="18.8" rx="1.2" fill="url(#h0_1)"/><rect x="606.0" y="913.1" width="31.1" height="18.8" rx="1.2" fill="url(#vsh)"/>
<rect x="545.4" y="932.9" width="91.7" height="16.0" rx="1.2" fill="url(#h1_1)"/><rect x="545.4" y="932.9" width="91.7" height="16.0" rx="1.2" fill="url(#vsh)"/>
<rect x="545.4" y="949.9" width="26.9" height="16.0" rx="1.2" fill="url(#h2_4)"/><rect x="545.4" y="949.9" width="26.9" height="16.0" rx="1.2" fill="url(#vsh)"/>
<rect x="573.1" y="949.9" width="30.7" height="16.0" rx="1.2" fill="url(#h2_8)"/><rect x="573.1" y="949.9" width="30.7" height="16.0" rx="1.2" fill="url(#vsh)"/>
<rect x="604.6" y="949.9" width="32.5" height="16.0" rx="1.2" fill="url(#h2_9)"/><rect x="604.6" y="949.9" width="32.5" height="16.0" rx="1.2" fill="url(#vsh)"/>
<rect x="545.4" y="967.0" width="91.7" height="16.0" rx="1.2" fill="url(#h1_3)"/><rect x="545.4" y="967.0" width="91.7" height="16.0" rx="1.2" fill="url(#vsh)"/>
<rect x="545.4" y="984.0" width="59.8" height="16.0" rx="1.2" fill="url(#h0_6)"/><rect x="545.4" y="984.0" width="59.8" height="16.0" rx="1.2" fill="url(#vsh)"/>
<rect x="606.0" y="984.0" width="31.1" height="16.0" rx="1.2" fill="url(#h0_4)"/><rect x="606.0" y="984.0" width="31.1" height="16.0" rx="1.2" fill="url(#vsh)"/>
<rect x="545.4" y="1001.0" width="59.8" height="16.0" rx="1.2" fill="url(#h0_3)"/><rect x="545.4" y="1001.0" width="59.8" height="16.0" rx="1.2" fill="url(#vsh)"/>
<rect x="606.0" y="1001.0" width="31.1" height="16.0" rx="1.2" fill="url(#h0_9)"/><rect x="606.0" y="1001.0" width="31.1" height="16.0" rx="1.2" fill="url(#vsh)"/>
<rect x="545.4" y="1018.1" width="59.8" height="16.0" rx="1.2" fill="url(#h0_0)"/><rect x="545.4" y="1018.1" width="59.8" height="16.0" rx="1.2" fill="url(#vsh)"/>
<rect x="606.0" y="1018.1" width="31.1" height="16.0" rx="1.2" fill="url(#h0_0)"/><rect x="606.0" y="1018.1" width="31.1" height="16.0" rx="1.2" fill="url(#vsh)"/>
<rect x="545.4" y="1035.1" width="26.9" height="16.0" rx="1.2" fill="url(#h3_8)"/><rect x="545.4" y="1035.1" width="26.9" height="16.0" rx="1.2" fill="url(#vsh)"/>
<rect x="573.1" y="1035.1" width="30.7" height="16.0" rx="1.2" fill="url(#h3_4)"/><rect x="573.1" y="1035.1" width="30.7" height="16.0" rx="1.2" fill="url(#vsh)"/>
<rect x="604.6" y="1035.1" width="32.5" height="16.0" rx="1.2" fill="url(#h3_7)"/><rect x="604.6" y="1035.1" width="32.5" height="16.0" rx="1.2" fill="url(#vsh)"/>
<rect x="545.4" y="1052.1" width="91.7" height="16.0" rx="1.2" fill="url(#h1_4)"/><rect x="545.4" y="1052.1" width="91.7" height="16.0" rx="1.2" fill="url(#vsh)"/>
<rect x="545.4" y="1069.1" width="26.9" height="16.0" rx="1.2" fill="url(#h2_5)"/><rect x="545.4" y="1069.1" width="26.9" height="16.0" rx="1.2" fill="url(#vsh)"/>
<rect x="573.1" y="1069.1" width="30.7" height="16.0" rx="1.2" fill="url(#h2_3)"/><rect x="573.1" y="1069.1" width="30.7" height="16.0" rx="1.2" fill="url(#vsh)"/>
<rect x="604.6" y="1069.1" width="32.5" height="16.0" rx="1.2" fill="url(#h2_7)"/><rect x="604.6" y="1069.1" width="32.5" height="16.0" rx="1.2" fill="url(#vsh)"/>
<rect x="545.4" y="1086.2" width="91.7" height="16.0" rx="1.2" fill="url(#h1_8)"/><rect x="545.4" y="1086.2" width="91.7" height="16.0" rx="1.2" fill="url(#vsh)"/>
<rect x="545.4" y="1103.2" width="59.8" height="16.0" rx="1.2" fill="url(#h0_3)"/><rect x="545.4" y="1103.2" width="59.8" height="16.0" rx="1.2" fill="url(#vsh)"/>
<rect x="606.0" y="1103.2" width="31.1" height="16.0" rx="1.2" fill="url(#h0_8)"/><rect x="606.0" y="1103.2" width="31.1" height="16.0" rx="1.2" fill="url(#vsh)"/>
<rect x="545.4" y="1120.2" width="59.8" height="16.0" rx="1.2" fill="url(#h0_3)"/><rect x="545.4" y="1120.2" width="59.8" height="16.0" rx="1.2" fill="url(#vsh)"/>
<rect x="606.0" y="1120.2" width="31.1" height="16.0" rx="1.2" fill="url(#h0_0)"/><rect x="606.0" y="1120.2" width="31.1" height="16.0" rx="1.2" fill="url(#vsh)"/>
<rect x="545.4" y="1137.3" width="59.8" height="16.0" rx="1.2" fill="url(#h0_6)"/><rect x="545.4" y="1137.3" width="59.8" height="16.0" rx="1.2" fill="url(#vsh)"/>
<rect x="606.0" y="1137.3" width="31.1" height="16.0" rx="1.2" fill="url(#h0_4)"/><rect x="606.0" y="1137.3" width="31.1" height="16.0" rx="1.2" fill="url(#vsh)"/>
<clipPath id="cc5"><rect x="545" y="873.0" width="92.5" height="282.0"/></clipPath>
<g clip-path="url(#cc5)"><g filter="url(#blur3)">
<ellipse cx="591.1" cy="883.3" rx="7.9" ry="4.0" fill="#f0c060" opacity="0.24"/>
<ellipse cx="585.6" cy="902.9" rx="10.9" ry="4.4" fill="#3a2306" opacity="0.39"/>
<ellipse cx="607.4" cy="902.9" rx="10.0" ry="4.4" fill="#3a2306" opacity="0.25"/>
<ellipse cx="616.8" cy="900.1" rx="8.5" ry="4.0" fill="#f0c060" opacity="0.23"/>
<ellipse cx="570.6" cy="923.3" rx="7.1" ry="4.0" fill="#f0c060" opacity="0.34"/>
<ellipse cx="599.4" cy="943.8" rx="10.9" ry="3.7" fill="#3a2306" opacity="0.43"/>
<ellipse cx="598.3" cy="942.3" rx="5.4" ry="3.4" fill="#f0c060" opacity="0.20"/>
<ellipse cx="564.8" cy="956.5" rx="6.6" ry="3.7" fill="#3a2306" opacity="0.33"/>
<ellipse cx="620.7" cy="960.8" rx="13.3" ry="3.7" fill="#3a2306" opacity="0.45"/>
<ellipse cx="568.4" cy="976.6" rx="11.2" ry="3.7" fill="#3a2306" opacity="0.34"/>
<ellipse cx="607.9" cy="976.0" rx="11.9" ry="3.4" fill="#f0c060" opacity="0.27"/>
<ellipse cx="575.0" cy="991.0" rx="11.7" ry="3.4" fill="#f0c060" opacity="0.22"/>
<ellipse cx="611.1" cy="1007.8" rx="10.6" ry="3.4" fill="#f0c060" opacity="0.21"/>
<ellipse cx="589.3" cy="1026.3" rx="15.2" ry="3.7" fill="#3a2306" opacity="0.29"/>
<ellipse cx="581.2" cy="1029.0" rx="6.3" ry="3.7" fill="#3a2306" opacity="0.33"/>
<ellipse cx="557.3" cy="1041.6" rx="6.6" ry="3.7" fill="#3a2306" opacity="0.43"/>
<ellipse cx="609.5" cy="1044.4" rx="7.4" ry="3.4" fill="#f0c060" opacity="0.24"/>
<ellipse cx="557.5" cy="1062.2" rx="12.9" ry="3.7" fill="#3a2306" opacity="0.43"/>
<ellipse cx="576.3" cy="1062.1" rx="12.0" ry="3.7" fill="#3a2306" opacity="0.41"/>
<ellipse cx="571.6" cy="1076.6" rx="11.7" ry="3.4" fill="#f0c060" opacity="0.34"/>
<ellipse cx="612.7" cy="1097.2" rx="14.1" ry="3.7" fill="#3a2306" opacity="0.28"/>
<ellipse cx="554.9" cy="1095.6" rx="7.1" ry="3.4" fill="#f0c060" opacity="0.30"/>
<ellipse cx="618.0" cy="1128.9" rx="13.8" ry="3.7" fill="#3a2306" opacity="0.37"/>
<ellipse cx="610.0" cy="1144.8" rx="6.6" ry="3.7" fill="#3a2306" opacity="0.26"/>
</g></g>
<rect x="644.5" y="860.4" width="92.0" height="294.6" fill="#3a2810"/>
<rect x="644.9" y="860.9" width="59.5" height="17.3" rx="1.2" fill="url(#h0_5)"/><rect x="644.9" y="860.9" width="59.5" height="17.3" rx="1.2" fill="url(#vsh)"/>
<rect x="705.2" y="860.9" width="30.9" height="17.3" rx="1.2" fill="url(#h0_2)"/><rect x="705.2" y="860.9" width="30.9" height="17.3" rx="1.2" fill="url(#vsh)"/>
<rect x="644.9" y="879.2" width="59.5" height="17.3" rx="1.2" fill="url(#h0_6)"/><rect x="644.9" y="879.2" width="59.5" height="17.3" rx="1.2" fill="url(#vsh)"/>
<rect x="705.2" y="879.2" width="30.9" height="17.3" rx="1.2" fill="url(#h0_1)"/><rect x="705.2" y="879.2" width="30.9" height="17.3" rx="1.2" fill="url(#vsh)"/>
<rect x="644.9" y="897.6" width="59.5" height="17.3" rx="1.2" fill="url(#h0_1)"/><rect x="644.9" y="897.6" width="59.5" height="17.3" rx="1.2" fill="url(#vsh)"/>
<rect x="705.2" y="897.6" width="30.9" height="17.3" rx="1.2" fill="url(#h0_4)"/><rect x="705.2" y="897.6" width="30.9" height="17.3" rx="1.2" fill="url(#vsh)"/>
<rect x="644.9" y="915.9" width="26.8" height="16.0" rx="1.2" fill="url(#h3_9)"/><rect x="644.9" y="915.9" width="26.8" height="16.0" rx="1.2" fill="url(#vsh)"/>
<rect x="672.5" y="915.9" width="30.5" height="16.0" rx="1.2" fill="url(#h3_1)"/><rect x="672.5" y="915.9" width="30.5" height="16.0" rx="1.2" fill="url(#vsh)"/>
<rect x="703.8" y="915.9" width="32.3" height="16.0" rx="1.2" fill="url(#h3_3)"/><rect x="703.8" y="915.9" width="32.3" height="16.0" rx="1.2" fill="url(#vsh)"/>
<rect x="644.9" y="932.9" width="91.2" height="16.0" rx="1.2" fill="url(#h1_1)"/><rect x="644.9" y="932.9" width="91.2" height="16.0" rx="1.2" fill="url(#vsh)"/>
<rect x="644.9" y="949.9" width="26.8" height="16.0" rx="1.2" fill="url(#h2_6)"/><rect x="644.9" y="949.9" width="26.8" height="16.0" rx="1.2" fill="url(#vsh)"/>
<rect x="672.5" y="949.9" width="30.5" height="16.0" rx="1.2" fill="url(#h2_7)"/><rect x="672.5" y="949.9" width="30.5" height="16.0" rx="1.2" fill="url(#vsh)"/>
<rect x="703.8" y="949.9" width="32.3" height="16.0" rx="1.2" fill="url(#h2_7)"/><rect x="703.8" y="949.9" width="32.3" height="16.0" rx="1.2" fill="url(#vsh)"/>
<rect x="644.9" y="967.0" width="91.2" height="16.0" rx="1.2" fill="url(#h1_2)"/><rect x="644.9" y="967.0" width="91.2" height="16.0" rx="1.2" fill="url(#vsh)"/>
<rect x="644.9" y="984.0" width="59.5" height="16.0" rx="1.2" fill="url(#h0_3)"/><rect x="644.9" y="984.0" width="59.5" height="16.0" rx="1.2" fill="url(#vsh)"/>
<rect x="705.2" y="984.0" width="30.9" height="16.0" rx="1.2" fill="url(#h0_2)"/><rect x="705.2" y="984.0" width="30.9" height="16.0" rx="1.2" fill="url(#vsh)"/>
<rect x="644.9" y="1001.0" width="59.5" height="16.0" rx="1.2" fill="url(#h0_6)"/><rect x="644.9" y="1001.0" width="59.5" height="16.0" rx="1.2" fill="url(#vsh)"/>
<rect x="705.2" y="1001.0" width="30.9" height="16.0" rx="1.2" fill="url(#h0_7)"/><rect x="705.2" y="1001.0" width="30.9" height="16.0" rx="1.2" fill="url(#vsh)"/>
<rect x="644.9" y="1018.1" width="59.5" height="16.0" rx="1.2" fill="url(#h0_9)"/><rect x="644.9" y="1018.1" width="59.5" height="16.0" rx="1.2" fill="url(#vsh)"/>
<rect x="705.2" y="1018.1" width="30.9" height="16.0" rx="1.2" fill="url(#h0_3)"/><rect x="705.2" y="1018.1" width="30.9" height="16.0" rx="1.2" fill="url(#vsh)"/>
<rect x="644.9" y="1035.1" width="26.8" height="16.0" rx="1.2" fill="url(#h3_8)"/><rect x="644.9" y="1035.1" width="26.8" height="16.0" rx="1.2" fill="url(#vsh)"/>
<rect x="672.5" y="1035.1" width="30.5" height="16.0" rx="1.2" fill="url(#h3_1)"/><rect x="672.5" y="1035.1" width="30.5" height="16.0" rx="1.2" fill="url(#vsh)"/>
<rect x="703.8" y="1035.1" width="32.3" height="16.0" rx="1.2" fill="url(#h3_4)"/><rect x="703.8" y="1035.1" width="32.3" height="16.0" rx="1.2" fill="url(#vsh)"/>
<rect x="644.9" y="1052.1" width="91.2" height="16.0" rx="1.2" fill="url(#h1_4)"/><rect x="644.9" y="1052.1" width="91.2" height="16.0" rx="1.2" fill="url(#vsh)"/>
<rect x="644.9" y="1069.1" width="26.8" height="16.0" rx="1.2" fill="url(#h2_4)"/><rect x="644.9" y="1069.1" width="26.8" height="16.0" rx="1.2" fill="url(#vsh)"/>
<rect x="672.5" y="1069.1" width="30.5" height="16.0" rx="1.2" fill="url(#h2_9)"/><rect x="672.5" y="1069.1" width="30.5" height="16.0" rx="1.2" fill="url(#vsh)"/>
<rect x="703.8" y="1069.1" width="32.3" height="16.0" rx="1.2" fill="url(#h2_4)"/><rect x="703.8" y="1069.1" width="32.3" height="16.0" rx="1.2" fill="url(#vsh)"/>
<rect x="644.9" y="1086.2" width="91.2" height="16.0" rx="1.2" fill="url(#h1_5)"/><rect x="644.9" y="1086.2" width="91.2" height="16.0" rx="1.2" fill="url(#vsh)"/>
<rect x="644.9" y="1103.2" width="59.5" height="16.0" rx="1.2" fill="url(#h0_4)"/><rect x="644.9" y="1103.2" width="59.5" height="16.0" rx="1.2" fill="url(#vsh)"/>
<rect x="705.2" y="1103.2" width="30.9" height="16.0" rx="1.2" fill="url(#h0_4)"/><rect x="705.2" y="1103.2" width="30.9" height="16.0" rx="1.2" fill="url(#vsh)"/>
<rect x="644.9" y="1120.2" width="59.5" height="16.0" rx="1.2" fill="url(#h0_3)"/><rect x="644.9" y="1120.2" width="59.5" height="16.0" rx="1.2" fill="url(#vsh)"/>
<rect x="705.2" y="1120.2" width="30.9" height="16.0" rx="1.2" fill="url(#h0_7)"/><rect x="705.2" y="1120.2" width="30.9" height="16.0" rx="1.2" fill="url(#vsh)"/>
<rect x="644.9" y="1137.3" width="59.5" height="16.0" rx="1.2" fill="url(#h0_3)"/><rect x="644.9" y="1137.3" width="59.5" height="16.0" rx="1.2" fill="url(#vsh)"/>
<rect x="705.2" y="1137.3" width="30.9" height="16.0" rx="1.2" fill="url(#h0_2)"/><rect x="705.2" y="1137.3" width="30.9" height="16.0" rx="1.2" fill="url(#vsh)"/>
<clipPath id="cc6"><rect x="644.5" y="860.4" width="92.0" height="294.6"/></clipPath>
<g clip-path="url(#cc6)"><g filter="url(#blur3)">
<ellipse cx="674.4" cy="871.0" rx="6.3" ry="3.7" fill="#f0c060" opacity="0.21"/>
<ellipse cx="726.7" cy="888.8" rx="8.3" ry="4.0" fill="#3a2306" opacity="0.41"/>
<ellipse cx="688.6" cy="907.2" rx="10.9" ry="3.7" fill="#f0c060" opacity="0.34"/>
<ellipse cx="667.7" cy="942.5" rx="9.1" ry="3.4" fill="#f0c060" opacity="0.34"/>
<ellipse cx="691.4" cy="957.2" rx="12.0" ry="3.7" fill="#3a2306" opacity="0.40"/>
<ellipse cx="697.6" cy="975.1" rx="6.5" ry="3.4" fill="#f0c060" opacity="0.26"/>
<ellipse cx="727.3" cy="989.6" rx="10.1" ry="3.4" fill="#f0c060" opacity="0.34"/>
<ellipse cx="703.6" cy="1025.3" rx="9.1" ry="3.7" fill="#3a2306" opacity="0.29"/>
<ellipse cx="689.3" cy="1043.5" rx="14.0" ry="3.7" fill="#3a2306" opacity="0.38"/>
<ellipse cx="665.1" cy="1044.1" rx="12.5" ry="3.7" fill="#3a2306" opacity="0.33"/>
<ellipse cx="726.4" cy="1043.4" rx="7.9" ry="3.4" fill="#f0c060" opacity="0.21"/>
<ellipse cx="695.4" cy="1060.3" rx="10.2" ry="3.7" fill="#3a2306" opacity="0.42"/>
<ellipse cx="727.1" cy="1060.3" rx="8.0" ry="3.7" fill="#3a2306" opacity="0.40"/>
<ellipse cx="654.1" cy="1061.4" rx="8.0" ry="3.4" fill="#f0c060" opacity="0.32"/>
<ellipse cx="696.2" cy="1077.3" rx="13.7" ry="3.7" fill="#3a2306" opacity="0.28"/>
<ellipse cx="664.2" cy="1078.0" rx="7.8" ry="3.4" fill="#f0c060" opacity="0.29"/>
<ellipse cx="708.0" cy="1093.4" rx="9.5" ry="3.7" fill="#3a2306" opacity="0.28"/>
<ellipse cx="658.6" cy="1093.3" rx="10.3" ry="3.4" fill="#f0c060" opacity="0.32"/>
<ellipse cx="715.3" cy="1108.9" rx="11.4" ry="3.4" fill="#f0c060" opacity="0.25"/>
<ellipse cx="721.9" cy="1128.5" rx="15.0" ry="3.7" fill="#3a2306" opacity="0.37"/>
<ellipse cx="714.4" cy="1127.4" rx="13.9" ry="3.7" fill="#3a2306" opacity="0.29"/>
<ellipse cx="716.0" cy="1129.2" rx="6.3" ry="3.4" fill="#f0c060" opacity="0.23"/>
<ellipse cx="722.8" cy="1144.4" rx="9.6" ry="3.7" fill="#3a2306" opacity="0.28"/>
</g></g>
<rect x="744.5" y="858.1" width="92.3" height="296.9" fill="#3a2810"/>
<rect x="744.9" y="858.6" width="59.7" height="18.1" rx="1.2" fill="url(#h0_3)"/><rect x="744.9" y="858.6" width="59.7" height="18.1" rx="1.2" fill="url(#vsh)"/>
<rect x="805.4" y="858.6" width="31.0" height="18.1" rx="1.2" fill="url(#h0_0)"/><rect x="805.4" y="858.6" width="31.0" height="18.1" rx="1.2" fill="url(#vsh)"/>
<rect x="744.9" y="877.7" width="59.7" height="18.1" rx="1.2" fill="url(#h0_8)"/><rect x="744.9" y="877.7" width="59.7" height="18.1" rx="1.2" fill="url(#vsh)"/>
<rect x="805.4" y="877.7" width="31.0" height="18.1" rx="1.2" fill="url(#h0_0)"/><rect x="805.4" y="877.7" width="31.0" height="18.1" rx="1.2" fill="url(#vsh)"/>
<rect x="744.9" y="896.8" width="59.7" height="18.1" rx="1.2" fill="url(#h0_5)"/><rect x="744.9" y="896.8" width="59.7" height="18.1" rx="1.2" fill="url(#vsh)"/>
<rect x="805.4" y="896.8" width="31.0" height="18.1" rx="1.2" fill="url(#h0_1)"/><rect x="805.4" y="896.8" width="31.0" height="18.1" rx="1.2" fill="url(#vsh)"/>
<rect x="744.9" y="915.9" width="26.9" height="16.0" rx="1.2" fill="url(#h3_6)"/><rect x="744.9" y="915.9" width="26.9" height="16.0" rx="1.2" fill="url(#vsh)"/>
<rect x="772.6" y="915.9" width="30.6" height="16.0" rx="1.2" fill="url(#h3_9)"/><rect x="772.6" y="915.9" width="30.6" height="16.0" rx="1.2" fill="url(#vsh)"/>
<rect x="804.0" y="915.9" width="32.4" height="16.0" rx="1.2" fill="url(#h3_7)"/><rect x="804.0" y="915.9" width="32.4" height="16.0" rx="1.2" fill="url(#vsh)"/>
<rect x="744.9" y="932.9" width="91.5" height="16.0" rx="1.2" fill="url(#h1_8)"/><rect x="744.9" y="932.9" width="91.5" height="16.0" rx="1.2" fill="url(#vsh)"/>
<rect x="744.9" y="949.9" width="26.9" height="16.0" rx="1.2" fill="url(#h2_4)"/><rect x="744.9" y="949.9" width="26.9" height="16.0" rx="1.2" fill="url(#vsh)"/>
<rect x="772.6" y="949.9" width="30.6" height="16.0" rx="1.2" fill="url(#h2_6)"/><rect x="772.6" y="949.9" width="30.6" height="16.0" rx="1.2" fill="url(#vsh)"/>
<rect x="804.0" y="949.9" width="32.4" height="16.0" rx="1.2" fill="url(#h2_4)"/><rect x="804.0" y="949.9" width="32.4" height="16.0" rx="1.2" fill="url(#vsh)"/>
<rect x="744.9" y="967.0" width="91.5" height="16.0" rx="1.2" fill="url(#h1_9)"/><rect x="744.9" y="967.0" width="91.5" height="16.0" rx="1.2" fill="url(#vsh)"/>
<rect x="744.9" y="984.0" width="59.7" height="16.0" rx="1.2" fill="url(#h0_3)"/><rect x="744.9" y="984.0" width="59.7" height="16.0" rx="1.2" fill="url(#vsh)"/>
<rect x="805.4" y="984.0" width="31.0" height="16.0" rx="1.2" fill="url(#h0_6)"/><rect x="805.4" y="984.0" width="31.0" height="16.0" rx="1.2" fill="url(#vsh)"/>
<rect x="744.9" y="1001.0" width="59.7" height="16.0" rx="1.2" fill="url(#h0_6)"/><rect x="744.9" y="1001.0" width="59.7" height="16.0" rx="1.2" fill="url(#vsh)"/>
<rect x="805.4" y="1001.0" width="31.0" height="16.0" rx="1.2" fill="url(#h0_5)"/><rect x="805.4" y="1001.0" width="31.0" height="16.0" rx="1.2" fill="url(#vsh)"/>
<rect x="744.9" y="1018.1" width="59.7" height="16.0" rx="1.2" fill="url(#h0_7)"/><rect x="744.9" y="1018.1" width="59.7" height="16.0" rx="1.2" fill="url(#vsh)"/>
<rect x="805.4" y="1018.1" width="31.0" height="16.0" rx="1.2" fill="url(#h0_8)"/><rect x="805.4" y="1018.1" width="31.0" height="16.0" rx="1.2" fill="url(#vsh)"/>
<rect x="744.9" y="1035.1" width="26.9" height="16.0" rx="1.2" fill="url(#h3_7)"/><rect x="744.9" y="1035.1" width="26.9" height="16.0" rx="1.2" fill="url(#vsh)"/>
<rect x="772.6" y="1035.1" width="30.6" height="16.0" rx="1.2" fill="url(#h3_2)"/><rect x="772.6" y="1035.1" width="30.6" height="16.0" rx="1.2" fill="url(#vsh)"/>
<rect x="804.0" y="1035.1" width="32.4" height="16.0" rx="1.2" fill="url(#h3_0)"/><rect x="804.0" y="1035.1" width="32.4" height="16.0" rx="1.2" fill="url(#vsh)"/>
<rect x="744.9" y="1052.1" width="91.5" height="16.0" rx="1.2" fill="url(#h1_0)"/><rect x="744.9" y="1052.1" width="91.5" height="16.0" rx="1.2" fill="url(#vsh)"/>
<rect x="744.9" y="1069.1" width="26.9" height="16.0" rx="1.2" fill="url(#h2_9)"/><rect x="744.9" y="1069.1" width="26.9" height="16.0" rx="1.2" fill="url(#vsh)"/>
<rect x="772.6" y="1069.1" width="30.6" height="16.0" rx="1.2" fill="url(#h2_7)"/><rect x="772.6" y="1069.1" width="30.6" height="16.0" rx="1.2" fill="url(#vsh)"/>
<rect x="804.0" y="1069.1" width="32.4" height="16.0" rx="1.2" fill="url(#h2_7)"/><rect x="804.0" y="1069.1" width="32.4" height="16.0" rx="1.2" fill="url(#vsh)"/>
<rect x="744.9" y="1086.2" width="91.5" height="16.0" rx="1.2" fill="url(#h1_3)"/><rect x="744.9" y="1086.2" width="91.5" height="16.0" rx="1.2" fill="url(#vsh)"/>
<rect x="744.9" y="1103.2" width="59.7" height="16.0" rx="1.2" fill="url(#h0_7)"/><rect x="744.9" y="1103.2" width="59.7" height="16.0" rx="1.2" fill="url(#vsh)"/>
<rect x="805.4" y="1103.2" width="31.0" height="16.0" rx="1.2" fill="url(#h0_9)"/><rect x="805.4" y="1103.2" width="31.0" height="16.0" rx="1.2" fill="url(#vsh)"/>
<rect x="744.9" y="1120.2" width="59.7" height="16.0" rx="1.2" fill="url(#h0_7)"/><rect x="744.9" y="1120.2" width="59.7" height="16.0" rx="1.2" fill="url(#vsh)"/>
<rect x="805.4" y="1120.2" width="31.0" height="16.0" rx="1.2" fill="url(#h0_2)"/><rect x="805.4" y="1120.2" width="31.0" height="16.0" rx="1.2" fill="url(#vsh)"/>
<rect x="744.9" y="1137.3" width="59.7" height="16.0" rx="1.2" fill="url(#h0_7)"/><rect x="744.9" y="1137.3" width="59.7" height="16.0" rx="1.2" fill="url(#vsh)"/>
<rect x="805.4" y="1137.3" width="31.0" height="16.0" rx="1.2" fill="url(#h0_6)"/><rect x="805.4" y="1137.3" width="31.0" height="16.0" rx="1.2" fill="url(#vsh)"/>
<clipPath id="cc7"><rect x="744.5" y="858.1" width="92.3" height="296.9"/></clipPath>
<g clip-path="url(#cc7)"><g filter="url(#blur3)">
<ellipse cx="780.2" cy="866.5" rx="10.6" ry="3.8" fill="#f0c060" opacity="0.28"/>
<ellipse cx="756.7" cy="888.5" rx="6.8" ry="4.2" fill="#3a2306" opacity="0.40"/>
<ellipse cx="811.2" cy="887.8" rx="6.5" ry="4.2" fill="#3a2306" opacity="0.35"/>
<ellipse cx="823.9" cy="884.5" rx="11.0" ry="3.8" fill="#f0c060" opacity="0.35"/>
<ellipse cx="804.9" cy="904.6" rx="7.3" ry="4.2" fill="#3a2306" opacity="0.43"/>
<ellipse cx="775.0" cy="908.6" rx="13.9" ry="4.2" fill="#3a2306" opacity="0.39"/>
<ellipse cx="779.6" cy="924.6" rx="6.1" ry="3.4" fill="#f0c060" opacity="0.33"/>
<ellipse cx="820.6" cy="941.6" rx="8.5" ry="3.7" fill="#3a2306" opacity="0.44"/>
<ellipse cx="797.4" cy="941.0" rx="6.7" ry="3.4" fill="#f0c060" opacity="0.26"/>
<ellipse cx="765.6" cy="959.4" rx="9.8" ry="3.4" fill="#f0c060" opacity="0.33"/>
<ellipse cx="762.2" cy="993.0" rx="12.4" ry="3.7" fill="#3a2306" opacity="0.32"/>
<ellipse cx="792.2" cy="1010.9" rx="15.0" ry="3.7" fill="#3a2306" opacity="0.30"/>
<ellipse cx="793.3" cy="1011.7" rx="13.4" ry="3.7" fill="#3a2306" opacity="0.32"/>
<ellipse cx="781.0" cy="1007.1" rx="7.3" ry="3.4" fill="#f0c060" opacity="0.21"/>
<ellipse cx="808.6" cy="1023.7" rx="10.7" ry="3.4" fill="#f0c060" opacity="0.24"/>
<ellipse cx="825.1" cy="1045.8" rx="15.3" ry="3.7" fill="#3a2306" opacity="0.43"/>
<ellipse cx="807.9" cy="1045.2" rx="8.2" ry="3.7" fill="#3a2306" opacity="0.31"/>
<ellipse cx="791.6" cy="1063.0" rx="7.3" ry="3.7" fill="#3a2306" opacity="0.30"/>
<ellipse cx="795.6" cy="1075.9" rx="8.7" ry="3.4" fill="#f0c060" opacity="0.28"/>
<ellipse cx="796.8" cy="1095.5" rx="8.0" ry="3.7" fill="#3a2306" opacity="0.37"/>
<ellipse cx="763.7" cy="1095.6" rx="6.7" ry="3.4" fill="#f0c060" opacity="0.22"/>
<ellipse cx="764.4" cy="1111.5" rx="6.9" ry="3.4" fill="#f0c060" opacity="0.32"/>
<ellipse cx="814.3" cy="1129.5" rx="9.2" ry="3.4" fill="#f0c060" opacity="0.29"/>
<ellipse cx="822.9" cy="1147.3" rx="8.5" ry="3.7" fill="#3a2306" opacity="0.43"/>
<ellipse cx="757.0" cy="1146.3" rx="10.1" ry="3.7" fill="#3a2306" opacity="0.30"/>
<ellipse cx="811.2" cy="1142.8" rx="8.9" ry="3.4" fill="#f0c060" opacity="0.34"/>
</g></g>
<rect x="844.7" y="750.1" width="91.6" height="404.9" fill="#3a2810"/>
<rect x="845.1" y="750.6" width="26.7" height="15.5" rx="1.2" fill="url(#h3_2)"/><rect x="845.1" y="750.6" width="26.7" height="15.5" rx="1.2" fill="url(#vsh)"/>
<rect x="872.6" y="750.6" width="30.3" height="15.5" rx="1.2" fill="url(#h3_6)"/><rect x="872.6" y="750.6" width="30.3" height="15.5" rx="1.2" fill="url(#vsh)"/>
<rect x="903.7" y="750.6" width="32.2" height="15.5" rx="1.2" fill="url(#h3_3)"/><rect x="903.7" y="750.6" width="32.2" height="15.5" rx="1.2" fill="url(#vsh)"/>
<rect x="845.1" y="767.1" width="90.8" height="15.5" rx="1.2" fill="url(#h1_8)"/><rect x="845.1" y="767.1" width="90.8" height="15.5" rx="1.2" fill="url(#vsh)"/>
<rect x="845.1" y="783.7" width="26.7" height="15.5" rx="1.2" fill="url(#h2_9)"/><rect x="845.1" y="783.7" width="26.7" height="15.5" rx="1.2" fill="url(#vsh)"/>
<rect x="872.6" y="783.7" width="30.3" height="15.5" rx="1.2" fill="url(#h2_8)"/><rect x="872.6" y="783.7" width="30.3" height="15.5" rx="1.2" fill="url(#vsh)"/>
<rect x="903.7" y="783.7" width="32.2" height="15.5" rx="1.2" fill="url(#h2_6)"/><rect x="903.7" y="783.7" width="32.2" height="15.5" rx="1.2" fill="url(#vsh)"/>
<rect x="845.1" y="800.2" width="90.8" height="15.5" rx="1.2" fill="url(#h1_9)"/><rect x="845.1" y="800.2" width="90.8" height="15.5" rx="1.2" fill="url(#vsh)"/>
<rect x="845.1" y="816.7" width="59.2" height="15.5" rx="1.2" fill="url(#h0_2)"/><rect x="845.1" y="816.7" width="59.2" height="15.5" rx="1.2" fill="url(#vsh)"/>
<rect x="905.1" y="816.7" width="30.8" height="15.5" rx="1.2" fill="url(#h0_8)"/><rect x="905.1" y="816.7" width="30.8" height="15.5" rx="1.2" fill="url(#vsh)"/>
<rect x="845.1" y="833.2" width="59.2" height="15.5" rx="1.2" fill="url(#h0_4)"/><rect x="845.1" y="833.2" width="59.2" height="15.5" rx="1.2" fill="url(#vsh)"/>
<rect x="905.1" y="833.2" width="30.8" height="15.5" rx="1.2" fill="url(#h0_1)"/><rect x="905.1" y="833.2" width="30.8" height="15.5" rx="1.2" fill="url(#vsh)"/>
<rect x="845.1" y="849.8" width="59.2" height="15.5" rx="1.2" fill="url(#h0_4)"/><rect x="845.1" y="849.8" width="59.2" height="15.5" rx="1.2" fill="url(#vsh)"/>
<rect x="905.1" y="849.8" width="30.8" height="15.5" rx="1.2" fill="url(#h0_0)"/><rect x="905.1" y="849.8" width="30.8" height="15.5" rx="1.2" fill="url(#vsh)"/>
<rect x="845.1" y="866.3" width="59.2" height="15.5" rx="1.2" fill="url(#h0_7)"/><rect x="845.1" y="866.3" width="59.2" height="15.5" rx="1.2" fill="url(#vsh)"/>
<rect x="905.1" y="866.3" width="30.8" height="15.5" rx="1.2" fill="url(#h0_8)"/><rect x="905.1" y="866.3" width="30.8" height="15.5" rx="1.2" fill="url(#vsh)"/>
<rect x="845.1" y="882.8" width="59.2" height="15.5" rx="1.2" fill="url(#h0_0)"/><rect x="845.1" y="882.8" width="59.2" height="15.5" rx="1.2" fill="url(#vsh)"/>
<rect x="905.1" y="882.8" width="30.8" height="15.5" rx="1.2" fill="url(#h0_6)"/><rect x="905.1" y="882.8" width="30.8" height="15.5" rx="1.2" fill="url(#vsh)"/>
<rect x="845.1" y="899.4" width="59.2" height="15.5" rx="1.2" fill="url(#h0_6)"/><rect x="845.1" y="899.4" width="59.2" height="15.5" rx="1.2" fill="url(#vsh)"/>
<rect x="905.1" y="899.4" width="30.8" height="15.5" rx="1.2" fill="url(#h0_7)"/><rect x="905.1" y="899.4" width="30.8" height="15.5" rx="1.2" fill="url(#vsh)"/>
<rect x="845.1" y="915.9" width="26.7" height="16.0" rx="1.2" fill="url(#h3_1)"/><rect x="845.1" y="915.9" width="26.7" height="16.0" rx="1.2" fill="url(#vsh)"/>
<rect x="872.6" y="915.9" width="30.3" height="16.0" rx="1.2" fill="url(#h3_7)"/><rect x="872.6" y="915.9" width="30.3" height="16.0" rx="1.2" fill="url(#vsh)"/>
<rect x="903.7" y="915.9" width="32.2" height="16.0" rx="1.2" fill="url(#h3_2)"/><rect x="903.7" y="915.9" width="32.2" height="16.0" rx="1.2" fill="url(#vsh)"/>
<rect x="845.1" y="932.9" width="90.8" height="16.0" rx="1.2" fill="url(#h1_3)"/><rect x="845.1" y="932.9" width="90.8" height="16.0" rx="1.2" fill="url(#vsh)"/>
<rect x="845.1" y="949.9" width="26.7" height="16.0" rx="1.2" fill="url(#h2_1)"/><rect x="845.1" y="949.9" width="26.7" height="16.0" rx="1.2" fill="url(#vsh)"/>
<rect x="872.6" y="949.9" width="30.3" height="16.0" rx="1.2" fill="url(#h2_4)"/><rect x="872.6" y="949.9" width="30.3" height="16.0" rx="1.2" fill="url(#vsh)"/>
<rect x="903.7" y="949.9" width="32.2" height="16.0" rx="1.2" fill="url(#h2_3)"/><rect x="903.7" y="949.9" width="32.2" height="16.0" rx="1.2" fill="url(#vsh)"/>
<rect x="845.1" y="967.0" width="90.8" height="16.0" rx="1.2" fill="url(#h1_0)"/><rect x="845.1" y="967.0" width="90.8" height="16.0" rx="1.2" fill="url(#vsh)"/>
<rect x="845.1" y="984.0" width="59.2" height="16.0" rx="1.2" fill="url(#h0_1)"/><rect x="845.1" y="984.0" width="59.2" height="16.0" rx="1.2" fill="url(#vsh)"/>
<rect x="905.1" y="984.0" width="30.8" height="16.0" rx="1.2" fill="url(#h0_5)"/><rect x="905.1" y="984.0" width="30.8" height="16.0" rx="1.2" fill="url(#vsh)"/>
<rect x="845.1" y="1001.0" width="59.2" height="16.0" rx="1.2" fill="url(#h0_4)"/><rect x="845.1" y="1001.0" width="59.2" height="16.0" rx="1.2" fill="url(#vsh)"/>
<rect x="905.1" y="1001.0" width="30.8" height="16.0" rx="1.2" fill="url(#h0_0)"/><rect x="905.1" y="1001.0" width="30.8" height="16.0" rx="1.2" fill="url(#vsh)"/>
<rect x="845.1" y="1018.1" width="59.2" height="16.0" rx="1.2" fill="url(#h0_4)"/><rect x="845.1" y="1018.1" width="59.2" height="16.0" rx="1.2" fill="url(#vsh)"/>
<rect x="905.1" y="1018.1" width="30.8" height="16.0" rx="1.2" fill="url(#h0_8)"/><rect x="905.1" y="1018.1" width="30.8" height="16.0" rx="1.2" fill="url(#vsh)"/>
<rect x="845.1" y="1035.1" width="26.7" height="16.0" rx="1.2" fill="url(#h3_6)"/><rect x="845.1" y="1035.1" width="26.7" height="16.0" rx="1.2" fill="url(#vsh)"/>
<rect x="872.6" y="1035.1" width="30.3" height="16.0" rx="1.2" fill="url(#h3_8)"/><rect x="872.6" y="1035.1" width="30.3" height="16.0" rx="1.2" fill="url(#vsh)"/>
<rect x="903.7" y="1035.1" width="32.2" height="16.0" rx="1.2" fill="url(#h3_4)"/><rect x="903.7" y="1035.1" width="32.2" height="16.0" rx="1.2" fill="url(#vsh)"/>
<rect x="845.1" y="1052.1" width="90.8" height="16.0" rx="1.2" fill="url(#h1_4)"/><rect x="845.1" y="1052.1" width="90.8" height="16.0" rx="1.2" fill="url(#vsh)"/>
<rect x="845.1" y="1069.1" width="26.7" height="16.0" rx="1.2" fill="url(#h2_3)"/><rect x="845.1" y="1069.1" width="26.7" height="16.0" rx="1.2" fill="url(#vsh)"/>
<rect x="872.6" y="1069.1" width="30.3" height="16.0" rx="1.2" fill="url(#h2_1)"/><rect x="872.6" y="1069.1" width="30.3" height="16.0" rx="1.2" fill="url(#vsh)"/>
<rect x="903.7" y="1069.1" width="32.2" height="16.0" rx="1.2" fill="url(#h2_8)"/><rect x="903.7" y="1069.1" width="32.2" height="16.0" rx="1.2" fill="url(#vsh)"/>
<rect x="845.1" y="1086.2" width="90.8" height="16.0" rx="1.2" fill="url(#h1_0)"/><rect x="845.1" y="1086.2" width="90.8" height="16.0" rx="1.2" fill="url(#vsh)"/>
<rect x="845.1" y="1103.2" width="59.2" height="16.0" rx="1.2" fill="url(#h0_2)"/><rect x="845.1" y="1103.2" width="59.2" height="16.0" rx="1.2" fill="url(#vsh)"/>
<rect x="905.1" y="1103.2" width="30.8" height="16.0" rx="1.2" fill="url(#h0_4)"/><rect x="905.1" y="1103.2" width="30.8" height="16.0" rx="1.2" fill="url(#vsh)"/>
<rect x="845.1" y="1120.2" width="59.2" height="16.0" rx="1.2" fill="url(#h0_3)"/><rect x="845.1" y="1120.2" width="59.2" height="16.0" rx="1.2" fill="url(#vsh)"/>
<rect x="905.1" y="1120.2" width="30.8" height="16.0" rx="1.2" fill="url(#h0_3)"/><rect x="905.1" y="1120.2" width="30.8" height="16.0" rx="1.2" fill="url(#vsh)"/>
<rect x="845.1" y="1137.3" width="59.2" height="16.0" rx="1.2" fill="url(#h0_2)"/><rect x="845.1" y="1137.3" width="59.2" height="16.0" rx="1.2" fill="url(#vsh)"/>
<rect x="905.1" y="1137.3" width="30.8" height="16.0" rx="1.2" fill="url(#h0_5)"/><rect x="905.1" y="1137.3" width="30.8" height="16.0" rx="1.2" fill="url(#vsh)"/>
<clipPath id="cc8"><rect x="844.7" y="750.1" width="91.6" height="404.9"/></clipPath>
<g clip-path="url(#cc8)"><g filter="url(#blur3)">
<ellipse cx="897.9" cy="775.1" rx="14.5" ry="3.6" fill="#3a2306" opacity="0.43"/>
<ellipse cx="888.3" cy="793.9" rx="13.0" ry="3.6" fill="#3a2306" opacity="0.42"/>
<ellipse cx="885.9" cy="793.4" rx="11.7" ry="3.6" fill="#3a2306" opacity="0.31"/>
<ellipse cx="899.5" cy="789.3" rx="11.4" ry="3.3" fill="#f0c060" opacity="0.22"/>
<ellipse cx="899.4" cy="806.1" rx="11.8" ry="3.3" fill="#f0c060" opacity="0.31"/>
<ellipse cx="904.6" cy="824.6" rx="9.9" ry="3.3" fill="#f0c060" opacity="0.31"/>
<ellipse cx="868.5" cy="860.6" rx="11.3" ry="3.6" fill="#3a2306" opacity="0.38"/>
<ellipse cx="923.1" cy="872.9" rx="8.1" ry="3.6" fill="#3a2306" opacity="0.27"/>
<ellipse cx="856.4" cy="876.6" rx="14.1" ry="3.6" fill="#3a2306" opacity="0.38"/>
<ellipse cx="900.2" cy="891.3" rx="7.3" ry="3.6" fill="#3a2306" opacity="0.41"/>
<ellipse cx="901.2" cy="890.4" rx="9.4" ry="3.6" fill="#3a2306" opacity="0.30"/>
<ellipse cx="922.0" cy="888.3" rx="10.3" ry="3.3" fill="#f0c060" opacity="0.34"/>
<ellipse cx="890.8" cy="909.7" rx="12.2" ry="3.6" fill="#3a2306" opacity="0.26"/>
<ellipse cx="884.1" cy="907.6" rx="13.7" ry="3.6" fill="#3a2306" opacity="0.32"/>
<ellipse cx="895.3" cy="925.8" rx="14.3" ry="3.7" fill="#3a2306" opacity="0.36"/>
<ellipse cx="874.9" cy="924.4" rx="11.2" ry="3.7" fill="#3a2306" opacity="0.31"/>
<ellipse cx="889.8" cy="940.5" rx="10.6" ry="3.4" fill="#f0c060" opacity="0.23"/>
<ellipse cx="897.3" cy="961.1" rx="11.2" ry="3.7" fill="#3a2306" opacity="0.37"/>
<ellipse cx="913.6" cy="959.4" rx="6.6" ry="3.4" fill="#f0c060" opacity="0.22"/>
<ellipse cx="910.1" cy="975.8" rx="15.9" ry="3.7" fill="#3a2306" opacity="0.36"/>
<ellipse cx="861.5" cy="975.0" rx="7.0" ry="3.7" fill="#3a2306" opacity="0.44"/>
<ellipse cx="860.2" cy="994.9" rx="6.3" ry="3.7" fill="#3a2306" opacity="0.29"/>
<ellipse cx="873.1" cy="994.9" rx="11.0" ry="3.7" fill="#3a2306" opacity="0.33"/>
<ellipse cx="909.0" cy="1044.7" rx="9.5" ry="3.7" fill="#3a2306" opacity="0.32"/>
<ellipse cx="865.2" cy="1045.7" rx="12.6" ry="3.7" fill="#3a2306" opacity="0.40"/>
<ellipse cx="886.0" cy="1043.8" rx="9.1" ry="3.4" fill="#f0c060" opacity="0.22"/>
<ellipse cx="901.0" cy="1062.0" rx="11.1" ry="3.7" fill="#3a2306" opacity="0.30"/>
<ellipse cx="865.2" cy="1076.3" rx="8.5" ry="3.7" fill="#3a2306" opacity="0.32"/>
<ellipse cx="892.1" cy="1076.3" rx="9.3" ry="3.7" fill="#3a2306" opacity="0.29"/>
<ellipse cx="926.8" cy="1093.3" rx="12.6" ry="3.7" fill="#3a2306" opacity="0.29"/>
<ellipse cx="864.9" cy="1093.2" rx="9.0" ry="3.7" fill="#3a2306" opacity="0.31"/>
<ellipse cx="861.9" cy="1095.5" rx="7.0" ry="3.4" fill="#f0c060" opacity="0.33"/>
<ellipse cx="856.3" cy="1111.6" rx="13.9" ry="3.7" fill="#3a2306" opacity="0.39"/>
<ellipse cx="875.6" cy="1126.7" rx="8.6" ry="3.7" fill="#3a2306" opacity="0.40"/>
<ellipse cx="854.3" cy="1127.8" rx="14.5" ry="3.7" fill="#3a2306" opacity="0.39"/>
<ellipse cx="884.7" cy="1144.7" rx="13.2" ry="3.7" fill="#3a2306" opacity="0.43"/>
<ellipse cx="910.6" cy="1147.2" rx="14.5" ry="3.7" fill="#3a2306" opacity="0.39"/>
</g></g>
<rect x="943" y="175.0" width="92.7" height="980.0" fill="#3a2810"/>
<rect x="943.4" y="175.5" width="27.0" height="16.2" rx="1.2" fill="url(#h3_7)"/><rect x="943.4" y="175.5" width="27.0" height="16.2" rx="1.2" fill="url(#vsh)"/>
<rect x="971.2" y="175.5" width="30.7" height="16.2" rx="1.2" fill="url(#h3_6)"/><rect x="971.2" y="175.5" width="30.7" height="16.2" rx="1.2" fill="url(#vsh)"/>
<rect x="1002.7" y="175.5" width="32.6" height="16.2" rx="1.2" fill="url(#h3_5)"/><rect x="1002.7" y="175.5" width="32.6" height="16.2" rx="1.2" fill="url(#vsh)"/>
<rect x="943.4" y="192.7" width="91.9" height="16.2" rx="1.2" fill="url(#h1_4)"/><rect x="943.4" y="192.7" width="91.9" height="16.2" rx="1.2" fill="url(#vsh)"/>
<rect x="943.4" y="209.8" width="27.0" height="16.2" rx="1.2" fill="url(#h2_1)"/><rect x="943.4" y="209.8" width="27.0" height="16.2" rx="1.2" fill="url(#vsh)"/>
<rect x="971.2" y="209.8" width="30.7" height="16.2" rx="1.2" fill="url(#h2_6)"/><rect x="971.2" y="209.8" width="30.7" height="16.2" rx="1.2" fill="url(#vsh)"/>
<rect x="1002.7" y="209.8" width="32.6" height="16.2" rx="1.2" fill="url(#h2_3)"/><rect x="1002.7" y="209.8" width="32.6" height="16.2" rx="1.2" fill="url(#vsh)"/>
<rect x="943.4" y="227.0" width="91.9" height="16.2" rx="1.2" fill="url(#h1_6)"/><rect x="943.4" y="227.0" width="91.9" height="16.2" rx="1.2" fill="url(#vsh)"/>
<rect x="943.4" y="244.2" width="59.9" height="16.2" rx="1.2" fill="url(#h0_2)"/><rect x="943.4" y="244.2" width="59.9" height="16.2" rx="1.2" fill="url(#vsh)"/>
<rect x="1004.1" y="244.2" width="31.2" height="16.2" rx="1.2" fill="url(#h0_4)"/><rect x="1004.1" y="244.2" width="31.2" height="16.2" rx="1.2" fill="url(#vsh)"/>
<rect x="943.4" y="261.4" width="59.9" height="16.2" rx="1.2" fill="url(#h0_6)"/><rect x="943.4" y="261.4" width="59.9" height="16.2" rx="1.2" fill="url(#vsh)"/>
<rect x="1004.1" y="261.4" width="31.2" height="16.2" rx="1.2" fill="url(#h0_7)"/><rect x="1004.1" y="261.4" width="31.2" height="16.2" rx="1.2" fill="url(#vsh)"/>
<rect x="943.4" y="278.5" width="59.9" height="16.2" rx="1.2" fill="url(#h0_7)"/><rect x="943.4" y="278.5" width="59.9" height="16.2" rx="1.2" fill="url(#vsh)"/>
<rect x="1004.1" y="278.5" width="31.2" height="16.2" rx="1.2" fill="url(#h0_0)"/><rect x="1004.1" y="278.5" width="31.2" height="16.2" rx="1.2" fill="url(#vsh)"/>
<rect x="943.4" y="295.7" width="27.0" height="16.2" rx="1.2" fill="url(#h2_9)"/><rect x="943.4" y="295.7" width="27.0" height="16.2" rx="1.2" fill="url(#vsh)"/>
<rect x="971.2" y="295.7" width="30.7" height="16.2" rx="1.2" fill="url(#h2_6)"/><rect x="971.2" y="295.7" width="30.7" height="16.2" rx="1.2" fill="url(#vsh)"/>
<rect x="1002.7" y="295.7" width="32.6" height="16.2" rx="1.2" fill="url(#h2_8)"/><rect x="1002.7" y="295.7" width="32.6" height="16.2" rx="1.2" fill="url(#vsh)"/>
<rect x="943.4" y="312.9" width="91.9" height="16.2" rx="1.2" fill="url(#h1_2)"/><rect x="943.4" y="312.9" width="91.9" height="16.2" rx="1.2" fill="url(#vsh)"/>
<rect x="943.4" y="330.0" width="59.9" height="16.2" rx="1.2" fill="url(#h0_5)"/><rect x="943.4" y="330.0" width="59.9" height="16.2" rx="1.2" fill="url(#vsh)"/>
<rect x="1004.1" y="330.0" width="31.2" height="16.2" rx="1.2" fill="url(#h0_0)"/><rect x="1004.1" y="330.0" width="31.2" height="16.2" rx="1.2" fill="url(#vsh)"/>
<rect x="943.4" y="347.2" width="59.9" height="16.2" rx="1.2" fill="url(#h0_6)"/><rect x="943.4" y="347.2" width="59.9" height="16.2" rx="1.2" fill="url(#vsh)"/>
<rect x="1004.1" y="347.2" width="31.2" height="16.2" rx="1.2" fill="url(#h0_7)"/><rect x="1004.1" y="347.2" width="31.2" height="16.2" rx="1.2" fill="url(#vsh)"/>
<rect x="943.4" y="364.4" width="59.9" height="16.2" rx="1.2" fill="url(#h0_1)"/><rect x="943.4" y="364.4" width="59.9" height="16.2" rx="1.2" fill="url(#vsh)"/>
<rect x="1004.1" y="364.4" width="31.2" height="16.2" rx="1.2" fill="url(#h0_0)"/><rect x="1004.1" y="364.4" width="31.2" height="16.2" rx="1.2" fill="url(#vsh)"/>
<rect x="943.4" y="381.6" width="27.0" height="16.2" rx="1.2" fill="url(#h3_4)"/><rect x="943.4" y="381.6" width="27.0" height="16.2" rx="1.2" fill="url(#vsh)"/>
<rect x="971.2" y="381.6" width="30.7" height="16.2" rx="1.2" fill="url(#h3_8)"/><rect x="971.2" y="381.6" width="30.7" height="16.2" rx="1.2" fill="url(#vsh)"/>
<rect x="1002.7" y="381.6" width="32.6" height="16.2" rx="1.2" fill="url(#h3_3)"/><rect x="1002.7" y="381.6" width="32.6" height="16.2" rx="1.2" fill="url(#vsh)"/>
<rect x="943.4" y="398.7" width="91.9" height="16.2" rx="1.2" fill="url(#h1_2)"/><rect x="943.4" y="398.7" width="91.9" height="16.2" rx="1.2" fill="url(#vsh)"/>
<rect x="943.4" y="415.9" width="27.0" height="16.2" rx="1.2" fill="url(#h2_3)"/><rect x="943.4" y="415.9" width="27.0" height="16.2" rx="1.2" fill="url(#vsh)"/>
<rect x="971.2" y="415.9" width="30.7" height="16.2" rx="1.2" fill="url(#h2_8)"/><rect x="971.2" y="415.9" width="30.7" height="16.2" rx="1.2" fill="url(#vsh)"/>
<rect x="1002.7" y="415.9" width="32.6" height="16.2" rx="1.2" fill="url(#h2_5)"/><rect x="1002.7" y="415.9" width="32.6" height="16.2" rx="1.2" fill="url(#vsh)"/>
<rect x="943.4" y="433.1" width="91.9" height="16.2" rx="1.2" fill="url(#h1_1)"/><rect x="943.4" y="433.1" width="91.9" height="16.2" rx="1.2" fill="url(#vsh)"/>
<rect x="943.4" y="450.3" width="59.9" height="16.2" rx="1.2" fill="url(#h0_9)"/><rect x="943.4" y="450.3" width="59.9" height="16.2" rx="1.2" fill="url(#vsh)"/>
<rect x="1004.1" y="450.3" width="31.2" height="16.2" rx="1.2" fill="url(#h0_7)"/><rect x="1004.1" y="450.3" width="31.2" height="16.2" rx="1.2" fill="url(#vsh)"/>
<rect x="943.4" y="467.4" width="59.9" height="16.2" rx="1.2" fill="url(#h0_8)"/><rect x="943.4" y="467.4" width="59.9" height="16.2" rx="1.2" fill="url(#vsh)"/>
<rect x="1004.1" y="467.4" width="31.2" height="16.2" rx="1.2" fill="url(#h0_3)"/><rect x="1004.1" y="467.4" width="31.2" height="16.2" rx="1.2" fill="url(#vsh)"/>
<rect x="943.4" y="484.6" width="59.9" height="16.2" rx="1.2" fill="url(#h0_7)"/><rect x="943.4" y="484.6" width="59.9" height="16.2" rx="1.2" fill="url(#vsh)"/>
<rect x="1004.1" y="484.6" width="31.2" height="16.2" rx="1.2" fill="url(#h0_8)"/><rect x="1004.1" y="484.6" width="31.2" height="16.2" rx="1.2" fill="url(#vsh)"/>
<rect x="943.4" y="501.8" width="27.0" height="16.2" rx="1.2" fill="url(#h3_0)"/><rect x="943.4" y="501.8" width="27.0" height="16.2" rx="1.2" fill="url(#vsh)"/>
<rect x="971.2" y="501.8" width="30.7" height="16.2" rx="1.2" fill="url(#h3_5)"/><rect x="971.2" y="501.8" width="30.7" height="16.2" rx="1.2" fill="url(#vsh)"/>
<rect x="1002.7" y="501.8" width="32.6" height="16.2" rx="1.2" fill="url(#h3_8)"/><rect x="1002.7" y="501.8" width="32.6" height="16.2" rx="1.2" fill="url(#vsh)"/>
<rect x="943.4" y="518.9" width="91.9" height="16.2" rx="1.2" fill="url(#h1_5)"/><rect x="943.4" y="518.9" width="91.9" height="16.2" rx="1.2" fill="url(#vsh)"/>
<rect x="943.4" y="536.1" width="27.0" height="16.2" rx="1.2" fill="url(#h2_6)"/><rect x="943.4" y="536.1" width="27.0" height="16.2" rx="1.2" fill="url(#vsh)"/>
<rect x="971.2" y="536.1" width="30.7" height="16.2" rx="1.2" fill="url(#h2_7)"/><rect x="971.2" y="536.1" width="30.7" height="16.2" rx="1.2" fill="url(#vsh)"/>
<rect x="1002.7" y="536.1" width="32.6" height="16.2" rx="1.2" fill="url(#h2_3)"/><rect x="1002.7" y="536.1" width="32.6" height="16.2" rx="1.2" fill="url(#vsh)"/>
<rect x="943.4" y="553.3" width="91.9" height="16.2" rx="1.2" fill="url(#h1_2)"/><rect x="943.4" y="553.3" width="91.9" height="16.2" rx="1.2" fill="url(#vsh)"/>
<rect x="943.4" y="570.5" width="59.9" height="16.2" rx="1.2" fill="url(#h0_6)"/><rect x="943.4" y="570.5" width="59.9" height="16.2" rx="1.2" fill="url(#vsh)"/>
<rect x="1004.1" y="570.5" width="31.2" height="16.2" rx="1.2" fill="url(#h0_8)"/><rect x="1004.1" y="570.5" width="31.2" height="16.2" rx="1.2" fill="url(#vsh)"/>
<rect x="943.4" y="587.6" width="59.9" height="16.2" rx="1.2" fill="url(#h0_1)"/><rect x="943.4" y="587.6" width="59.9" height="16.2" rx="1.2" fill="url(#vsh)"/>
<rect x="1004.1" y="587.6" width="31.2" height="16.2" rx="1.2" fill="url(#h0_9)"/><rect x="1004.1" y="587.6" width="31.2" height="16.2" rx="1.2" fill="url(#vsh)"/>
<rect x="943.4" y="604.8" width="59.9" height="16.2" rx="1.2" fill="url(#h0_5)"/><rect x="943.4" y="604.8" width="59.9" height="16.2" rx="1.2" fill="url(#vsh)"/>
<rect x="1004.1" y="604.8" width="31.2" height="16.2" rx="1.2" fill="url(#h0_0)"/><rect x="1004.1" y="604.8" width="31.2" height="16.2" rx="1.2" fill="url(#vsh)"/>
<rect x="943.4" y="622.0" width="27.0" height="16.2" rx="1.2" fill="url(#h3_4)"/><rect x="943.4" y="622.0" width="27.0" height="16.2" rx="1.2" fill="url(#vsh)"/>
<rect x="971.2" y="622.0" width="30.7" height="16.2" rx="1.2" fill="url(#h3_4)"/><rect x="971.2" y="622.0" width="30.7" height="16.2" rx="1.2" fill="url(#vsh)"/>
<rect x="1002.7" y="622.0" width="32.6" height="16.2" rx="1.2" fill="url(#h3_6)"/><rect x="1002.7" y="622.0" width="32.6" height="16.2" rx="1.2" fill="url(#vsh)"/>
<rect x="943.4" y="639.1" width="91.9" height="16.2" rx="1.2" fill="url(#h1_6)"/><rect x="943.4" y="639.1" width="91.9" height="16.2" rx="1.2" fill="url(#vsh)"/>
<rect x="943.4" y="656.3" width="27.0" height="16.2" rx="1.2" fill="url(#h2_0)"/><rect x="943.4" y="656.3" width="27.0" height="16.2" rx="1.2" fill="url(#vsh)"/>
<rect x="971.2" y="656.3" width="30.7" height="16.2" rx="1.2" fill="url(#h2_0)"/><rect x="971.2" y="656.3" width="30.7" height="16.2" rx="1.2" fill="url(#vsh)"/>
<rect x="1002.7" y="656.3" width="32.6" height="16.2" rx="1.2" fill="url(#h2_1)"/><rect x="1002.7" y="656.3" width="32.6" height="16.2" rx="1.2" fill="url(#vsh)"/>
<rect x="943.4" y="673.5" width="91.9" height="16.2" rx="1.2" fill="url(#h1_6)"/><rect x="943.4" y="673.5" width="91.9" height="16.2" rx="1.2" fill="url(#vsh)"/>
<rect x="943.4" y="690.7" width="59.9" height="16.2" rx="1.2" fill="url(#h0_6)"/><rect x="943.4" y="690.7" width="59.9" height="16.2" rx="1.2" fill="url(#vsh)"/>
<rect x="1004.1" y="690.7" width="31.2" height="16.2" rx="1.2" fill="url(#h0_5)"/><rect x="1004.1" y="690.7" width="31.2" height="16.2" rx="1.2" fill="url(#vsh)"/>
<rect x="943.4" y="707.8" width="59.9" height="16.2" rx="1.2" fill="url(#h0_9)"/><rect x="943.4" y="707.8" width="59.9" height="16.2" rx="1.2" fill="url(#vsh)"/>
<rect x="1004.1" y="707.8" width="31.2" height="16.2" rx="1.2" fill="url(#h0_4)"/><rect x="1004.1" y="707.8" width="31.2" height="16.2" rx="1.2" fill="url(#vsh)"/>
<rect x="943.4" y="725.0" width="59.9" height="16.2" rx="1.2" fill="url(#h0_1)"/><rect x="943.4" y="725.0" width="59.9" height="16.2" rx="1.2" fill="url(#vsh)"/>
<rect x="1004.1" y="725.0" width="31.2" height="16.2" rx="1.2" fill="url(#h0_3)"/><rect x="1004.1" y="725.0" width="31.2" height="16.2" rx="1.2" fill="url(#vsh)"/>
<rect x="943.4" y="742.2" width="27.0" height="16.2" rx="1.2" fill="url(#h3_4)"/><rect x="943.4" y="742.2" width="27.0" height="16.2" rx="1.2" fill="url(#vsh)"/>
<rect x="971.2" y="742.2" width="30.7" height="16.2" rx="1.2" fill="url(#h3_6)"/><rect x="971.2" y="742.2" width="30.7" height="16.2" rx="1.2" fill="url(#vsh)"/>
<rect x="1002.7" y="742.2" width="32.6" height="16.2" rx="1.2" fill="url(#h3_8)"/><rect x="1002.7" y="742.2" width="32.6" height="16.2" rx="1.2" fill="url(#vsh)"/>
<rect x="943.4" y="759.3" width="91.9" height="16.2" rx="1.2" fill="url(#h1_3)"/><rect x="943.4" y="759.3" width="91.9" height="16.2" rx="1.2" fill="url(#vsh)"/>
<rect x="943.4" y="776.5" width="27.0" height="16.2" rx="1.2" fill="url(#h2_6)"/><rect x="943.4" y="776.5" width="27.0" height="16.2" rx="1.2" fill="url(#vsh)"/>
<rect x="971.2" y="776.5" width="30.7" height="16.2" rx="1.2" fill="url(#h2_7)"/><rect x="971.2" y="776.5" width="30.7" height="16.2" rx="1.2" fill="url(#vsh)"/>
<rect x="1002.7" y="776.5" width="32.6" height="16.2" rx="1.2" fill="url(#h2_3)"/><rect x="1002.7" y="776.5" width="32.6" height="16.2" rx="1.2" fill="url(#vsh)"/>
<rect x="943.4" y="793.7" width="91.9" height="16.2" rx="1.2" fill="url(#h1_2)"/><rect x="943.4" y="793.7" width="91.9" height="16.2" rx="1.2" fill="url(#vsh)"/>
<rect x="943.4" y="810.9" width="59.9" height="16.2" rx="1.2" fill="url(#h0_2)"/><rect x="943.4" y="810.9" width="59.9" height="16.2" rx="1.2" fill="url(#vsh)"/>
<rect x="1004.1" y="810.9" width="31.2" height="16.2" rx="1.2" fill="url(#h0_1)"/><rect x="1004.1" y="810.9" width="31.2" height="16.2" rx="1.2" fill="url(#vsh)"/>
<rect x="943.4" y="828.0" width="59.9" height="16.2" rx="1.2" fill="url(#h0_3)"/><rect x="943.4" y="828.0" width="59.9" height="16.2" rx="1.2" fill="url(#vsh)"/>
<rect x="1004.1" y="828.0" width="31.2" height="16.2" rx="1.2" fill="url(#h0_7)"/><rect x="1004.1" y="828.0" width="31.2" height="16.2" rx="1.2" fill="url(#vsh)"/>
<rect x="943.4" y="845.2" width="59.9" height="16.2" rx="1.2" fill="url(#h0_8)"/><rect x="943.4" y="845.2" width="59.9" height="16.2" rx="1.2" fill="url(#vsh)"/>
<rect x="1004.1" y="845.2" width="31.2" height="16.2" rx="1.2" fill="url(#h0_3)"/><rect x="1004.1" y="845.2" width="31.2" height="16.2" rx="1.2" fill="url(#vsh)"/>
<rect x="943.4" y="862.4" width="59.9" height="16.2" rx="1.2" fill="url(#h0_2)"/><rect x="943.4" y="862.4" width="59.9" height="16.2" rx="1.2" fill="url(#vsh)"/>
<rect x="1004.1" y="862.4" width="31.2" height="16.2" rx="1.2" fill="url(#h0_5)"/><rect x="1004.1" y="862.4" width="31.2" height="16.2" rx="1.2" fill="url(#vsh)"/>
<rect x="943.4" y="879.5" width="59.9" height="16.2" rx="1.2" fill="url(#h0_6)"/><rect x="943.4" y="879.5" width="59.9" height="16.2" rx="1.2" fill="url(#vsh)"/>
<rect x="1004.1" y="879.5" width="31.2" height="16.2" rx="1.2" fill="url(#h0_7)"/><rect x="1004.1" y="879.5" width="31.2" height="16.2" rx="1.2" fill="url(#vsh)"/>
<rect x="943.4" y="896.7" width="59.9" height="16.2" rx="1.2" fill="url(#h0_4)"/><rect x="943.4" y="896.7" width="59.9" height="16.2" rx="1.2" fill="url(#vsh)"/>
<rect x="1004.1" y="896.7" width="31.2" height="16.2" rx="1.2" fill="url(#h0_8)"/><rect x="1004.1" y="896.7" width="31.2" height="16.2" rx="1.2" fill="url(#vsh)"/>
<rect x="943.4" y="913.9" width="27.0" height="16.2" rx="1.2" fill="url(#h3_2)"/><rect x="943.4" y="913.9" width="27.0" height="16.2" rx="1.2" fill="url(#vsh)"/>
<rect x="971.2" y="913.9" width="30.7" height="16.2" rx="1.2" fill="url(#h3_7)"/><rect x="971.2" y="913.9" width="30.7" height="16.2" rx="1.2" fill="url(#vsh)"/>
<rect x="1002.7" y="913.9" width="32.6" height="16.2" rx="1.2" fill="url(#h3_5)"/><rect x="1002.7" y="913.9" width="32.6" height="16.2" rx="1.2" fill="url(#vsh)"/>
<rect x="943.4" y="931.1" width="91.9" height="16.2" rx="1.2" fill="url(#h1_3)"/><rect x="943.4" y="931.1" width="91.9" height="16.2" rx="1.2" fill="url(#vsh)"/>
<rect x="943.4" y="948.2" width="27.0" height="16.2" rx="1.2" fill="url(#h2_4)"/><rect x="943.4" y="948.2" width="27.0" height="16.2" rx="1.2" fill="url(#vsh)"/>
<rect x="971.2" y="948.2" width="30.7" height="16.2" rx="1.2" fill="url(#h2_6)"/><rect x="971.2" y="948.2" width="30.7" height="16.2" rx="1.2" fill="url(#vsh)"/>
<rect x="1002.7" y="948.2" width="32.6" height="16.2" rx="1.2" fill="url(#h2_4)"/><rect x="1002.7" y="948.2" width="32.6" height="16.2" rx="1.2" fill="url(#vsh)"/>
<rect x="943.4" y="965.4" width="91.9" height="16.2" rx="1.2" fill="url(#h1_6)"/><rect x="943.4" y="965.4" width="91.9" height="16.2" rx="1.2" fill="url(#vsh)"/>
<rect x="943.4" y="982.6" width="59.9" height="16.2" rx="1.2" fill="url(#h0_2)"/><rect x="943.4" y="982.6" width="59.9" height="16.2" rx="1.2" fill="url(#vsh)"/>
<rect x="1004.1" y="982.6" width="31.2" height="16.2" rx="1.2" fill="url(#h0_7)"/><rect x="1004.1" y="982.6" width="31.2" height="16.2" rx="1.2" fill="url(#vsh)"/>
<rect x="943.4" y="999.8" width="59.9" height="16.2" rx="1.2" fill="url(#h0_0)"/><rect x="943.4" y="999.8" width="59.9" height="16.2" rx="1.2" fill="url(#vsh)"/>
<rect x="1004.1" y="999.8" width="31.2" height="16.2" rx="1.2" fill="url(#h0_4)"/><rect x="1004.1" y="999.8" width="31.2" height="16.2" rx="1.2" fill="url(#vsh)"/>
<rect x="943.4" y="1016.9" width="59.9" height="16.2" rx="1.2" fill="url(#h0_5)"/><rect x="943.4" y="1016.9" width="59.9" height="16.2" rx="1.2" fill="url(#vsh)"/>
<rect x="1004.1" y="1016.9" width="31.2" height="16.2" rx="1.2" fill="url(#h0_3)"/><rect x="1004.1" y="1016.9" width="31.2" height="16.2" rx="1.2" fill="url(#vsh)"/>
<rect x="943.4" y="1034.1" width="27.0" height="16.2" rx="1.2" fill="url(#h3_4)"/><rect x="943.4" y="1034.1" width="27.0" height="16.2" rx="1.2" fill="url(#vsh)"/>
<rect x="971.2" y="1034.1" width="30.7" height="16.2" rx="1.2" fill="url(#h3_5)"/><rect x="971.2" y="1034.1" width="30.7" height="16.2" rx="1.2" fill="url(#vsh)"/>
<rect x="1002.7" y="1034.1" width="32.6" height="16.2" rx="1.2" fill="url(#h3_7)"/><rect x="1002.7" y="1034.1" width="32.6" height="16.2" rx="1.2" fill="url(#vsh)"/>
<rect x="943.4" y="1051.3" width="91.9" height="16.2" rx="1.2" fill="url(#h1_7)"/><rect x="943.4" y="1051.3" width="91.9" height="16.2" rx="1.2" fill="url(#vsh)"/>
<rect x="943.4" y="1068.4" width="27.0" height="16.2" rx="1.2" fill="url(#h2_6)"/><rect x="943.4" y="1068.4" width="27.0" height="16.2" rx="1.2" fill="url(#vsh)"/>
<rect x="971.2" y="1068.4" width="30.7" height="16.2" rx="1.2" fill="url(#h2_9)"/><rect x="971.2" y="1068.4" width="30.7" height="16.2" rx="1.2" fill="url(#vsh)"/>
<rect x="1002.7" y="1068.4" width="32.6" height="16.2" rx="1.2" fill="url(#h2_1)"/><rect x="1002.7" y="1068.4" width="32.6" height="16.2" rx="1.2" fill="url(#vsh)"/>
<rect x="943.4" y="1085.6" width="91.9" height="16.2" rx="1.2" fill="url(#h1_5)"/><rect x="943.4" y="1085.6" width="91.9" height="16.2" rx="1.2" fill="url(#vsh)"/>
<rect x="943.4" y="1102.8" width="59.9" height="16.2" rx="1.2" fill="url(#h0_2)"/><rect x="943.4" y="1102.8" width="59.9" height="16.2" rx="1.2" fill="url(#vsh)"/>
<rect x="1004.1" y="1102.8" width="31.2" height="16.2" rx="1.2" fill="url(#h0_4)"/><rect x="1004.1" y="1102.8" width="31.2" height="16.2" rx="1.2" fill="url(#vsh)"/>
<rect x="943.4" y="1120.0" width="59.9" height="16.2" rx="1.2" fill="url(#h0_6)"/><rect x="943.4" y="1120.0" width="59.9" height="16.2" rx="1.2" fill="url(#vsh)"/>
<rect x="1004.1" y="1120.0" width="31.2" height="16.2" rx="1.2" fill="url(#h0_0)"/><rect x="1004.1" y="1120.0" width="31.2" height="16.2" rx="1.2" fill="url(#vsh)"/>
<rect x="943.4" y="1137.1" width="59.9" height="16.2" rx="1.2" fill="url(#h0_1)"/><rect x="943.4" y="1137.1" width="59.9" height="16.2" rx="1.2" fill="url(#vsh)"/>
<rect x="1004.1" y="1137.1" width="31.2" height="16.2" rx="1.2" fill="url(#h0_9)"/><rect x="1004.1" y="1137.1" width="31.2" height="16.2" rx="1.2" fill="url(#vsh)"/>
<clipPath id="cc9"><rect x="943" y="175.0" width="92.7" height="980.0"/></clipPath>
<g clip-path="url(#cc9)"><g filter="url(#blur3)">
<ellipse cx="1010.4" cy="182.6" rx="14.3" ry="3.8" fill="#3a2306" opacity="0.38"/>
<ellipse cx="953.1" cy="185.1" rx="9.6" ry="3.4" fill="#f0c060" opacity="0.24"/>
<ellipse cx="985.8" cy="218.7" rx="6.5" ry="3.4" fill="#f0c060" opacity="0.26"/>
<ellipse cx="964.7" cy="238.0" rx="12.1" ry="3.8" fill="#3a2306" opacity="0.41"/>
<ellipse cx="1001.8" cy="238.0" rx="13.9" ry="3.8" fill="#3a2306" opacity="0.42"/>
<ellipse cx="1003.6" cy="234.8" rx="10.2" ry="3.4" fill="#f0c060" opacity="0.27"/>
<ellipse cx="983.3" cy="272.0" rx="10.7" ry="3.8" fill="#3a2306" opacity="0.36"/>
<ellipse cx="1019.4" cy="269.9" rx="6.7" ry="3.4" fill="#f0c060" opacity="0.22"/>
<ellipse cx="1016.3" cy="284.9" rx="14.4" ry="3.8" fill="#3a2306" opacity="0.34"/>
<ellipse cx="994.0" cy="288.3" rx="14.4" ry="3.8" fill="#3a2306" opacity="0.32"/>
<ellipse cx="1023.5" cy="284.4" rx="9.5" ry="3.4" fill="#f0c060" opacity="0.30"/>
<ellipse cx="955.7" cy="304.4" rx="12.0" ry="3.4" fill="#f0c060" opacity="0.32"/>
<ellipse cx="1008.4" cy="337.2" rx="8.1" ry="3.8" fill="#3a2306" opacity="0.33"/>
<ellipse cx="959.3" cy="338.4" rx="7.4" ry="3.4" fill="#f0c060" opacity="0.32"/>
<ellipse cx="1009.4" cy="354.7" rx="10.4" ry="3.8" fill="#3a2306" opacity="0.33"/>
<ellipse cx="993.4" cy="357.8" rx="8.9" ry="3.8" fill="#3a2306" opacity="0.42"/>
<ellipse cx="989.6" cy="353.9" rx="8.5" ry="3.4" fill="#f0c060" opacity="0.35"/>
<ellipse cx="988.8" cy="371.4" rx="7.9" ry="3.8" fill="#3a2306" opacity="0.39"/>
<ellipse cx="961.7" cy="375.8" rx="6.9" ry="3.8" fill="#3a2306" opacity="0.45"/>
<ellipse cx="993.4" cy="371.6" rx="9.0" ry="3.4" fill="#f0c060" opacity="0.26"/>
<ellipse cx="966.4" cy="391.0" rx="9.3" ry="3.4" fill="#f0c060" opacity="0.30"/>
<ellipse cx="1019.7" cy="408.3" rx="12.2" ry="3.8" fill="#3a2306" opacity="0.38"/>
<ellipse cx="1003.9" cy="408.2" rx="12.8" ry="3.8" fill="#3a2306" opacity="0.29"/>
<ellipse cx="998.6" cy="423.2" rx="12.6" ry="3.8" fill="#3a2306" opacity="0.42"/>
<ellipse cx="959.7" cy="425.4" rx="5.1" ry="3.4" fill="#f0c060" opacity="0.33"/>
<ellipse cx="1004.9" cy="461.1" rx="7.8" ry="3.8" fill="#3a2306" opacity="0.26"/>
<ellipse cx="953.8" cy="459.5" rx="11.8" ry="3.8" fill="#3a2306" opacity="0.43"/>
<ellipse cx="991.0" cy="459.3" rx="10.4" ry="3.4" fill="#f0c060" opacity="0.26"/>
<ellipse cx="1020.4" cy="476.1" rx="6.1" ry="3.8" fill="#3a2306" opacity="0.33"/>
<ellipse cx="996.2" cy="478.6" rx="15.8" ry="3.8" fill="#3a2306" opacity="0.35"/>
<ellipse cx="959.8" cy="475.7" rx="6.5" ry="3.4" fill="#f0c060" opacity="0.22"/>
<ellipse cx="953.0" cy="493.0" rx="11.9" ry="3.4" fill="#f0c060" opacity="0.33"/>
<ellipse cx="972.7" cy="526.9" rx="8.2" ry="3.4" fill="#f0c060" opacity="0.31"/>
<ellipse cx="1007.7" cy="544.6" rx="6.0" ry="3.4" fill="#f0c060" opacity="0.31"/>
<ellipse cx="998.9" cy="563.3" rx="10.6" ry="3.8" fill="#3a2306" opacity="0.44"/>
<ellipse cx="1023.8" cy="561.9" rx="5.1" ry="3.4" fill="#f0c060" opacity="0.20"/>
<ellipse cx="1003.2" cy="580.0" rx="9.9" ry="3.8" fill="#3a2306" opacity="0.31"/>
<ellipse cx="996.8" cy="581.8" rx="14.3" ry="3.8" fill="#3a2306" opacity="0.37"/>
<ellipse cx="1022.6" cy="579.1" rx="8.3" ry="3.4" fill="#f0c060" opacity="0.22"/>
<ellipse cx="1000.1" cy="595.8" rx="7.9" ry="3.4" fill="#f0c060" opacity="0.26"/>
<ellipse cx="1022.3" cy="615.2" rx="11.7" ry="3.8" fill="#3a2306" opacity="0.31"/>
<ellipse cx="1024.5" cy="613.3" rx="10.8" ry="3.4" fill="#f0c060" opacity="0.25"/>
<ellipse cx="1006.1" cy="628.4" rx="7.5" ry="3.8" fill="#3a2306" opacity="0.42"/>
<ellipse cx="995.6" cy="633.4" rx="8.5" ry="3.8" fill="#3a2306" opacity="0.33"/>
<ellipse cx="1009.5" cy="628.5" rx="8.2" ry="3.4" fill="#f0c060" opacity="0.30"/>
<ellipse cx="971.8" cy="647.7" rx="11.9" ry="3.8" fill="#3a2306" opacity="0.41"/>
<ellipse cx="962.7" cy="665.6" rx="11.9" ry="3.4" fill="#f0c060" opacity="0.22"/>
<ellipse cx="1003.0" cy="684.6" rx="9.5" ry="3.8" fill="#3a2306" opacity="0.27"/>
<ellipse cx="993.3" cy="684.0" rx="8.0" ry="3.8" fill="#3a2306" opacity="0.40"/>
<ellipse cx="956.5" cy="697.9" rx="10.0" ry="3.4" fill="#f0c060" opacity="0.34"/>
<ellipse cx="1008.0" cy="718.3" rx="10.6" ry="3.8" fill="#3a2306" opacity="0.27"/>
<ellipse cx="1012.1" cy="718.2" rx="8.3" ry="3.8" fill="#3a2306" opacity="0.37"/>
<ellipse cx="976.1" cy="734.0" rx="8.0" ry="3.8" fill="#3a2306" opacity="0.29"/>
<ellipse cx="959.1" cy="735.5" rx="8.9" ry="3.8" fill="#3a2306" opacity="0.37"/>
<ellipse cx="1010.1" cy="734.2" rx="6.7" ry="3.4" fill="#f0c060" opacity="0.34"/>
<ellipse cx="980.0" cy="749.1" rx="12.3" ry="3.8" fill="#3a2306" opacity="0.41"/>
<ellipse cx="996.6" cy="749.2" rx="8.6" ry="3.4" fill="#f0c060" opacity="0.20"/>
<ellipse cx="1016.8" cy="767.3" rx="9.1" ry="3.4" fill="#f0c060" opacity="0.23"/>
<ellipse cx="983.9" cy="787.8" rx="13.7" ry="3.8" fill="#3a2306" opacity="0.41"/>
<ellipse cx="1014.8" cy="801.8" rx="15.9" ry="3.8" fill="#3a2306" opacity="0.33"/>
<ellipse cx="954.9" cy="800.8" rx="9.9" ry="3.4" fill="#f0c060" opacity="0.27"/>
<ellipse cx="981.7" cy="835.0" rx="15.6" ry="3.8" fill="#3a2306" opacity="0.30"/>
<ellipse cx="994.1" cy="837.7" rx="15.6" ry="3.8" fill="#3a2306" opacity="0.38"/>
<ellipse cx="985.5" cy="834.2" rx="11.8" ry="3.4" fill="#f0c060" opacity="0.35"/>
<ellipse cx="1022.1" cy="854.8" rx="5.4" ry="3.4" fill="#f0c060" opacity="0.28"/>
<ellipse cx="990.3" cy="888.2" rx="10.3" ry="3.4" fill="#f0c060" opacity="0.27"/>
<ellipse cx="1008.3" cy="906.3" rx="9.7" ry="3.4" fill="#f0c060" opacity="0.24"/>
<ellipse cx="985.0" cy="923.6" rx="10.7" ry="3.8" fill="#3a2306" opacity="0.32"/>
<ellipse cx="981.2" cy="922.2" rx="9.8" ry="3.8" fill="#3a2306" opacity="0.34"/>
<ellipse cx="1018.4" cy="939.8" rx="15.1" ry="3.8" fill="#3a2306" opacity="0.41"/>
<ellipse cx="963.9" cy="941.7" rx="6.8" ry="3.8" fill="#3a2306" opacity="0.37"/>
<ellipse cx="1007.8" cy="939.9" rx="11.7" ry="3.4" fill="#f0c060" opacity="0.34"/>
<ellipse cx="1014.7" cy="957.8" rx="10.5" ry="3.8" fill="#3a2306" opacity="0.32"/>
<ellipse cx="960.8" cy="973.7" rx="9.3" ry="3.8" fill="#3a2306" opacity="0.40"/>
<ellipse cx="985.7" cy="974.7" rx="8.1" ry="3.4" fill="#f0c060" opacity="0.22"/>
<ellipse cx="982.8" cy="989.8" rx="8.7" ry="3.8" fill="#3a2306" opacity="0.42"/>
<ellipse cx="964.7" cy="990.2" rx="7.2" ry="3.4" fill="#f0c060" opacity="0.34"/>
<ellipse cx="990.3" cy="1008.0" rx="10.5" ry="3.4" fill="#f0c060" opacity="0.34"/>
<ellipse cx="987.7" cy="1024.8" rx="8.6" ry="3.8" fill="#3a2306" opacity="0.29"/>
<ellipse cx="979.3" cy="1028.4" rx="16.0" ry="3.8" fill="#3a2306" opacity="0.44"/>
<ellipse cx="973.7" cy="1026.3" rx="5.4" ry="3.4" fill="#f0c060" opacity="0.31"/>
<ellipse cx="963.0" cy="1043.8" rx="10.4" ry="3.8" fill="#3a2306" opacity="0.35"/>
<ellipse cx="952.4" cy="1061.9" rx="11.3" ry="3.8" fill="#3a2306" opacity="0.29"/>
<ellipse cx="1019.9" cy="1057.7" rx="9.0" ry="3.4" fill="#f0c060" opacity="0.22"/>
<ellipse cx="989.0" cy="1144.9" rx="8.1" ry="3.8" fill="#3a2306" opacity="0.37"/>
<ellipse cx="1004.8" cy="1147.7" rx="11.8" ry="3.8" fill="#3a2306" opacity="0.29"/>
<ellipse cx="1006.6" cy="1144.4" rx="10.1" ry="3.4" fill="#f0c060" opacity="0.21"/>
</g></g>
<rect x="39" y="1153.5" width="997" height="2.6" fill="#dcdcdc"/>
<rect x="688.4" y="660.5" width="2" height="125" fill="#f0f0f0"/>
<path d="M681 782.3 L689.4 793.6 L697.8 782.3 L689.4 786.2 Z" fill="#f0f0f0"/>
<circle cx="91.5" cy="1197.8999999999999" r="32.6" fill="#222" opacity="0.35"/>
<circle cx="91.5" cy="1197.3" r="32.1" fill="#f1f1f1"/>
<clipPath id="c_NED"><circle cx="91.5" cy="1197.3" r="27.4"/></clipPath>
<g clip-path="url(#c_NED)">
<rect x="64.1" y="1169.9" width="54.8" height="16.7" fill="#e3161f"/>
<rect x="64.1" y="1186.1" width="54.8" height="22.4" fill="#f5f5f5"/>
<rect x="64.1" y="1208.0" width="54.8" height="17.7" fill="#2f6ccb"/>
</g>
<circle cx="191.5" cy="1197.8999999999999" r="32.6" fill="#222" opacity="0.35"/>
<circle cx="191.5" cy="1197.3" r="32.1" fill="#f1f1f1"/>
<clipPath id="c_IND"><circle cx="191.5" cy="1197.3" r="27.4"/></clipPath>
<g clip-path="url(#c_IND)">
<rect x="164.1" y="1169.9" width="54.8" height="16.7" fill="#f2a54a"/>
<rect x="164.1" y="1186.1" width="54.8" height="22.4" fill="#f5f5f5"/>
<rect x="164.1" y="1208.0" width="54.8" height="17.7" fill="#1e9a44"/>
<circle cx="191.5" cy="1197.3" r="7.6" fill="none" stroke="#1d2a80" stroke-width="1.5"/>
<line x1="191.5" y1="1197.3" x2="198.5" y2="1197.3" stroke="#1d2a80" stroke-width="0.7"/>
<line x1="191.5" y1="1197.3" x2="198.3" y2="1199.1" stroke="#1d2a80" stroke-width="0.7"/>
<line x1="191.5" y1="1197.3" x2="197.6" y2="1200.8" stroke="#1d2a80" stroke-width="0.7"/>
<line x1="191.5" y1="1197.3" x2="196.4" y2="1202.2" stroke="#1d2a80" stroke-width="0.7"/>
<line x1="191.5" y1="1197.3" x2="195.0" y2="1203.4" stroke="#1d2a80" stroke-width="0.7"/>
<line x1="191.5" y1="1197.3" x2="193.3" y2="1204.1" stroke="#1d2a80" stroke-width="0.7"/>
<line x1="191.5" y1="1197.3" x2="191.5" y2="1204.3" stroke="#1d2a80" stroke-width="0.7"/>
<line x1="191.5" y1="1197.3" x2="189.7" y2="1204.1" stroke="#1d2a80" stroke-width="0.7"/>
<line x1="191.5" y1="1197.3" x2="188.0" y2="1203.4" stroke="#1d2a80" stroke-width="0.7"/>
<line x1="191.5" y1="1197.3" x2="186.6" y2="1202.2" stroke="#1d2a80" stroke-width="0.7"/>
<line x1="191.5" y1="1197.3" x2="185.4" y2="1200.8" stroke="#1d2a80" stroke-width="0.7"/>
<line x1="191.5" y1="1197.3" x2="184.7" y2="1199.1" stroke="#1d2a80" stroke-width="0.7"/>
<line x1="191.5" y1="1197.3" x2="184.5" y2="1197.3" stroke="#1d2a80" stroke-width="0.7"/>
<line x1="191.5" y1="1197.3" x2="184.7" y2="1195.5" stroke="#1d2a80" stroke-width="0.7"/>
<line x1="191.5" y1="1197.3" x2="185.4" y2="1193.8" stroke="#1d2a80" stroke-width="0.7"/>
<line x1="191.5" y1="1197.3" x2="186.6" y2="1192.4" stroke="#1d2a80" stroke-width="0.7"/>
<line x1="191.5" y1="1197.3" x2="188.0" y2="1191.2" stroke="#1d2a80" stroke-width="0.7"/>
<line x1="191.5" y1="1197.3" x2="189.7" y2="1190.5" stroke="#1d2a80" stroke-width="0.7"/>
<line x1="191.5" y1="1197.3" x2="191.5" y2="1190.3" stroke="#1d2a80" stroke-width="0.7"/>
<line x1="191.5" y1="1197.3" x2="193.3" y2="1190.5" stroke="#1d2a80" stroke-width="0.7"/>
<line x1="191.5" y1="1197.3" x2="195.0" y2="1191.2" stroke="#1d2a80" stroke-width="0.7"/>
<line x1="191.5" y1="1197.3" x2="196.4" y2="1192.4" stroke="#1d2a80" stroke-width="0.7"/>
<line x1="191.5" y1="1197.3" x2="197.6" y2="1193.8" stroke="#1d2a80" stroke-width="0.7"/>
<line x1="191.5" y1="1197.3" x2="198.3" y2="1195.5" stroke="#1d2a80" stroke-width="0.7"/>
<circle cx="191.5" cy="1197.3" r="1.8" fill="#1d2a80"/>
</g>
<circle cx="291.3" cy="1197.8999999999999" r="32.6" fill="#222" opacity="0.35"/>
<circle cx="291.3" cy="1197.3" r="32.1" fill="#f1f1f1"/>
<clipPath id="c_JPN"><circle cx="291.3" cy="1197.3" r="27.4"/></clipPath>
<g clip-path="url(#c_JPN)">
<rect x="263.90000000000003" y="1169.8999999999999" width="54.8" height="54.8" fill="#f5f5f5"/>
<circle cx="291.3" cy="1197.3" r="13.6" fill="#e3161f"/>
</g>
<circle cx="391" cy="1197.8999999999999" r="32.6" fill="#222" opacity="0.35"/>
<circle cx="391" cy="1197.3" r="32.1" fill="#f1f1f1"/>
<clipPath id="c_SUI"><circle cx="391" cy="1197.3" r="27.4"/></clipPath>
<g clip-path="url(#c_SUI)">
<rect x="363.6" y="1169.8999999999999" width="54.8" height="54.8" fill="#e3161f"/>
<rect x="385.8" y="1180.8" width="10.4" height="33" fill="#fafafa"/>
<rect x="374.5" y="1192.1" width="33" height="10.4" fill="#fafafa"/>
</g>
<circle cx="491" cy="1197.8999999999999" r="32.6" fill="#222" opacity="0.35"/>
<circle cx="491" cy="1197.3" r="32.1" fill="#f1f1f1"/>
<clipPath id="c_CHN"><circle cx="491" cy="1197.3" r="27.4"/></clipPath>
<g clip-path="url(#c_CHN)">
<rect x="463.6" y="1169.8999999999999" width="54.8" height="54.8" fill="#e3161f"/>
<polygon points="477.0,1181.1 478.6,1186.1 483.8,1186.1 479.6,1189.1 481.2,1194.1 477.0,1191.1 472.8,1194.1 474.4,1189.1 470.2,1186.1 475.4,1186.1" fill="#f9d616"/>
<polygon points="490.9,1177.0 490.8,1178.8 492.5,1179.4 490.8,1179.9 490.7,1181.7 489.7,1180.2 487.9,1180.7 489.0,1179.3 488.0,1177.8 489.7,1178.4" fill="#f9d616"/>
<polygon points="497.8,1183.5 496.9,1185.2 498.2,1186.4 496.4,1186.2 495.6,1187.8 495.3,1186.0 493.5,1185.7 495.1,1184.9 494.9,1183.1 496.1,1184.4" fill="#f9d616"/>
<polygon points="496.0,1190.3 496.6,1192.0 498.4,1192.0 496.9,1193.1 497.5,1194.8 496.0,1193.8 494.5,1194.8 495.1,1193.1 493.6,1192.0 495.4,1192.0" fill="#f9d616"/>
<polygon points="490.9,1196.5 490.8,1198.3 492.5,1198.9 490.8,1199.4 490.7,1201.2 489.7,1199.7 487.9,1200.2 489.0,1198.8 488.0,1197.3 489.7,1197.9" fill="#f9d616"/>
</g>
<circle cx="590.5" cy="1197.8999999999999" r="32.6" fill="#222" opacity="0.35"/>
<circle cx="590.5" cy="1197.3" r="32.1" fill="#f1f1f1"/>
<clipPath id="c_RUS"><circle cx="590.5" cy="1197.3" r="27.4"/></clipPath>
<g clip-path="url(#c_RUS)">
<rect x="563.1" y="1169.9" width="54.8" height="16.7" fill="#f5f5f5"/>
<rect x="563.1" y="1186.1" width="54.8" height="22.4" fill="#2b5fc7"/>
<rect x="563.1" y="1208.0" width="54.8" height="17.7" fill="#e3161f"/>
</g>
<circle cx="690.3" cy="1197.8999999999999" r="32.6" fill="#222" opacity="0.35"/>
<circle cx="690.3" cy="1197.3" r="32.1" fill="#f1f1f1"/>
<clipPath id="c_FRA"><circle cx="690.3" cy="1197.3" r="27.4"/></clipPath>
<g clip-path="url(#c_FRA)">
<rect x="662.9" y="1169.9" width="16.7" height="54.8" fill="#2e62cc"/>
<rect x="679.1" y="1169.9" width="22.4" height="54.8" fill="#f5f5f5"/>
<rect x="701.0" y="1169.9" width="17.7" height="54.8" fill="#e3161f"/>
</g>
<circle cx="790" cy="1197.8999999999999" r="32.6" fill="#222" opacity="0.35"/>
<circle cx="790" cy="1197.3" r="32.1" fill="#f1f1f1"/>
<clipPath id="c_ITA"><circle cx="790" cy="1197.3" r="27.4"/></clipPath>
<g clip-path="url(#c_ITA)">
<rect x="762.6" y="1169.9" width="16.7" height="54.8" fill="#1f9a48"/>
<rect x="778.8" y="1169.9" width="22.4" height="54.8" fill="#f5f5f5"/>
<rect x="800.7" y="1169.9" width="17.7" height="54.8" fill="#e3161f"/>
</g>
<circle cx="890.3" cy="1197.8999999999999" r="32.6" fill="#222" opacity="0.35"/>
<circle cx="890.3" cy="1197.3" r="32.1" fill="#f1f1f1"/>
<clipPath id="c_GER"><circle cx="890.3" cy="1197.3" r="27.4"/></clipPath>
<g clip-path="url(#c_GER)">
<rect x="862.9" y="1169.9" width="54.8" height="16.7" fill="#111111"/>
<rect x="862.9" y="1186.1" width="54.8" height="22.4" fill="#e3161f"/>
<rect x="862.9" y="1208.0" width="54.8" height="17.7" fill="#f7cf00"/>
</g>
<circle cx="990" cy="1197.8999999999999" r="32.6" fill="#222" opacity="0.35"/>
<circle cx="990" cy="1197.3" r="32.1" fill="#f1f1f1"/>
<clipPath id="c_US"><circle cx="990" cy="1197.3" r="27.4"/></clipPath>
<g clip-path="url(#c_US)">
<rect x="962.6" y="1169.8999999999999" width="54.8" height="54.8" fill="#f5f5f5"/>
<rect x="962.6" y="1169.90" width="54.8" height="4.22" fill="#d6202c"/>
<rect x="962.6" y="1178.33" width="54.8" height="4.22" fill="#d6202c"/>
<rect x="962.6" y="1186.76" width="54.8" height="4.22" fill="#d6202c"/>
<rect x="962.6" y="1195.19" width="54.8" height="4.22" fill="#d6202c"/>
<rect x="962.6" y="1203.62" width="54.8" height="4.22" fill="#d6202c"/>
<rect x="962.6" y="1212.05" width="54.8" height="4.22" fill="#d6202c"/>
<rect x="962.6" y="1220.48" width="54.8" height="4.22" fill="#d6202c"/>
<rect x="962.6" y="1169.8999999999999" width="27.4" height="29.5" fill="#3b4ea6"/>
<circle cx="967.6" cy="1173.4" r="0.85" fill="#fff"/>
<circle cx="971.6" cy="1173.4" r="0.85" fill="#fff"/>
<circle cx="975.6" cy="1173.4" r="0.85" fill="#fff"/>
<circle cx="979.6" cy="1173.4" r="0.85" fill="#fff"/>
<circle cx="983.6" cy="1173.4" r="0.85" fill="#fff"/>
<circle cx="987.6" cy="1173.4" r="0.85" fill="#fff"/>
<circle cx="969.6" cy="1178.0" r="0.85" fill="#fff"/>
<circle cx="973.6" cy="1178.0" r="0.85" fill="#fff"/>
<circle cx="977.6" cy="1178.0" r="0.85" fill="#fff"/>
<circle cx="981.6" cy="1178.0" r="0.85" fill="#fff"/>
<circle cx="985.6" cy="1178.0" r="0.85" fill="#fff"/>
<circle cx="967.6" cy="1182.6" r="0.85" fill="#fff"/>
<circle cx="971.6" cy="1182.6" r="0.85" fill="#fff"/>
<circle cx="975.6" cy="1182.6" r="0.85" fill="#fff"/>
<circle cx="979.6" cy="1182.6" r="0.85" fill="#fff"/>
<circle cx="983.6" cy="1182.6" r="0.85" fill="#fff"/>
<circle cx="987.6" cy="1182.6" r="0.85" fill="#fff"/>
<circle cx="969.6" cy="1187.2" r="0.85" fill="#fff"/>
<circle cx="973.6" cy="1187.2" r="0.85" fill="#fff"/>
<circle cx="977.6" cy="1187.2" r="0.85" fill="#fff"/>
<circle cx="981.6" cy="1187.2" r="0.85" fill="#fff"/>
<circle cx="985.6" cy="1187.2" r="0.85" fill="#fff"/>
<circle cx="967.6" cy="1191.8" r="0.85" fill="#fff"/>
<circle cx="971.6" cy="1191.8" r="0.85" fill="#fff"/>
<circle cx="975.6" cy="1191.8" r="0.85" fill="#fff"/>
<circle cx="979.6" cy="1191.8" r="0.85" fill="#fff"/>
<circle cx="983.6" cy="1191.8" r="0.85" fill="#fff"/>
<circle cx="987.6" cy="1191.8" r="0.85" fill="#fff"/>
<circle cx="969.6" cy="1196.4" r="0.85" fill="#fff"/>
<circle cx="973.6" cy="1196.4" r="0.85" fill="#fff"/>
<circle cx="977.6" cy="1196.4" r="0.85" fill="#fff"/>
<circle cx="981.6" cy="1196.4" r="0.85" fill="#fff"/>
<circle cx="985.6" cy="1196.4" r="0.85" fill="#fff"/>
</g>
<rect x="0" y="26.4" width="1080" height="2" fill="#2a2412"/>
<rect x="0" y="0" width="1080" height="26.6" fill="#f5c406"/>
<rect x="0" y="25" width="1080" height="1.4" fill="#f0cc50" opacity="0.6"/>
<rect x="1024.5" y="26" width="55.5" height="51" fill="#f5c406"/>
<rect x="1030.5" y="27.5" width="44.5" height="44.5" fill="#323232"/>
</svg>
<div class="t big" style="left:45.8px;top:100.7px;transform:scale(0.8811,0.9593);-webkit-text-stroke-width:6px">M</div>
<div class="t big" style="left:245.2px;top:99.4px;transform:scale(1.1845,0.9704);-webkit-text-stroke-width:3px">o</div>
<div class="t big" style="left:383.2px;top:103.5px;transform:scale(1.1033,0.9375);-webkit-text-stroke-width:6px">s</div>
<div class="t big" style="left:484.9px;top:96.1px;transform:scale(1.0941,0.9788);-webkit-text-stroke-width:6px">t</div>
<div class="t big" style="left:33.7px;top:287.7px;transform:scale(0.8628,0.9828);-webkit-text-stroke-width:3px">G</div>
<div class="t big" style="left:198.6px;top:288.0px;transform:scale(1.1727,0.9720);-webkit-text-stroke-width:3px">o</div>
<div class="t big" style="left:332.5px;top:291.0px;transform:scale(0.9881,0.9552);-webkit-text-stroke-width:6px">l</div>
<div class="t big" style="left:390.1px;top:288.9px;transform:scale(1.0462,0.9724);-webkit-text-stroke-width:3px">d</div>
<div class="t sub" style="font-family:'Liberation Sans',sans-serif;font-size:34px;left:41.3px;top:98.4px;transform:scale(0.8730,1.0000)">COUNTRIES WITH THE</div>
<div class="t sub" style="font-family:'Liberation Sans',sans-serif;font-size:34px;left:39.3px;top:511.7px;transform:scale(0.9843,1.0000)">IN 2024</div>
<div class="t ann" style="font-family:'Liberation Sans',sans-serif;font-size:31.25px;left:544.2px;top:584.6px;transform:scale(0.8732,1.0000)">CENTRAL BANK GOLD</div>
<div class="t ann" style="font-family:'Liberation Sans',sans-serif;font-size:31.25px;left:555.6px;top:619.0px;transform:scale(0.8148,1.0000)">RESERVES (TONNES)</div>
<div class="t ax" style="font-family:'Liberation Sans',sans-serif;font-size:27px;left:592.0px;top:160.4px;transform:scale(0.9538,1.0000)">8,000</div>
<div class="t ax" style="font-family:'Liberation Sans',sans-serif;font-size:27px;left:591.0px;top:401.7px;transform:scale(0.9723,1.0000)">6,000</div>
<div class="t ax" style="font-family:'Liberation Sans',sans-serif;font-size:27px;left:39.9px;top:636.3px;transform:scale(0.9785,1.0000)">4,000</div>
<div class="t ax" style="font-family:'Liberation Sans',sans-serif;font-size:27px;left:40.1px;top:881.7px;transform:scale(0.9754,1.0000)">2,000</div>
<div class="t num" style="font-family:'Liberation Sans',sans-serif;font-weight:bold;font-size:43.5px;left:65.3px;top:1031.0px;transform:scale(0.7145,1.0000)">612</div>
<div class="t num" style="font-family:'Liberation Sans',sans-serif;font-weight:bold;font-size:43.5px;left:164.8px;top:1003.9px;transform:scale(0.6789,1.0000)">831</div>
<div class="t num" style="font-family:'Liberation Sans',sans-serif;font-weight:bold;font-size:43.5px;left:263.2px;top:1003.0px;transform:scale(0.7786,1.0000)">846</div>
<div class="t num" style="font-family:'Liberation Sans',sans-serif;font-weight:bold;font-size:43.5px;left:352.2px;top:979.8px;transform:scale(0.7413,1.0000)">1,040</div>
<div class="t num" style="font-family:'Liberation Sans',sans-serif;font-weight:bold;font-size:43.5px;left:449.6px;top:833.9px;transform:scale(0.7778,1.0000)">2,264</div>
<div class="t num" style="font-family:'Liberation Sans',sans-serif;font-weight:bold;font-size:43.5px;left:546.6px;top:824.6px;transform:scale(0.7858,1.0000)">2,336</div>
<div class="t num" style="font-family:'Liberation Sans',sans-serif;font-weight:bold;font-size:43.5px;left:645.9px;top:811.7px;transform:scale(0.7670,1.0000)">2,437</div>
<div class="t num" style="font-family:'Liberation Sans',sans-serif;font-weight:bold;font-size:43.5px;left:746.6px;top:810.6px;transform:scale(0.7858,1.0000)">2,452</div>
<div class="t num" style="font-family:'Liberation Sans',sans-serif;font-weight:bold;font-size:43.5px;left:848.0px;top:698.9px;transform:scale(0.7196,1.0000)">3,351</div>
<div class="t num" style="font-family:'Liberation Sans',sans-serif;font-weight:bold;font-size:43.5px;left:949.3px;top:127.5px;transform:scale(0.7358,1.0000)">8,133</div>
<div class="t lab" style="font-family:'Liberation Sans',sans-serif;font-weight:bold;font-size:31px;left:72.8px;top:1238.6px;transform:scale(0.5500,1.0000)">NED</div>
<div class="t lab" style="font-family:'Liberation Sans',sans-serif;font-weight:bold;font-size:31px;left:174.8px;top:1238.6px;transform:scale(0.6140,1.0000)">IND</div>
<div class="t lab" style="font-family:'Liberation Sans',sans-serif;font-weight:bold;font-size:31px;left:275.4px;top:1238.6px;transform:scale(0.5614,1.0000)">JPN</div>
<div class="t lab" style="font-family:'Liberation Sans',sans-serif;font-weight:bold;font-size:31px;left:376.9px;top:1238.6px;transform:scale(0.5776,1.0000)">SUI</div>
<div class="t lab" style="font-family:'Liberation Sans',sans-serif;font-weight:bold;font-size:31px;left:472.7px;top:1238.6px;transform:scale(0.5516,1.0000)">CHN</div>
<div class="t lab" style="font-family:'Liberation Sans',sans-serif;font-weight:bold;font-size:31px;left:572.2px;top:1238.6px;transform:scale(0.5516,1.0000)">RUS</div>
<div class="t lab" style="font-family:'Liberation Sans',sans-serif;font-weight:bold;font-size:31px;left:672.2px;top:1238.6px;transform:scale(0.5475,1.0000)">FRA</div>
<div class="t lab" style="font-family:'Liberation Sans',sans-serif;font-weight:bold;font-size:31px;left:774.0px;top:1238.6px;transform:scale(0.5933,1.0000)">ITA</div>
<div class="t lab" style="font-family:'Liberation Sans',sans-serif;font-weight:bold;font-size:31px;left:873.5px;top:1238.6px;transform:scale(0.5031,1.0000)">GER</div>
<div class="t lab" style="font-family:'Liberation Sans',sans-serif;font-weight:bold;font-size:31px;left:971.0px;top:1238.6px;transform:scale(0.6161,1.0000)">U.S.</div>
<div class="t foot" style="font-family:'Liberation Sans',sans-serif;font-size:21.5px;left:473.3px;top:1287.9px;transform:scale(0.9000,1.0000)">As of May 2024</div>
<div class="t foot" style="font-family:'Liberation Sans',sans-serif;font-size:22.5px;left:45.3px;top:1311.9px;transform:scale(0.8069,1.0000)"><b style="color:#c4c4c4">Sources:</b> Central Banks, Federal Reserve Bank of St. Louis, International Monetary Fund, World Bank, World Gold Council</div>
<div class="t logoE" style="font-family:'Liberation Sans',sans-serif;font-weight:bold;font-size:33px;left:1041.1px;top:31.8px;transform:scale(0.9737,1.0435)">E</div>
</body></html>
